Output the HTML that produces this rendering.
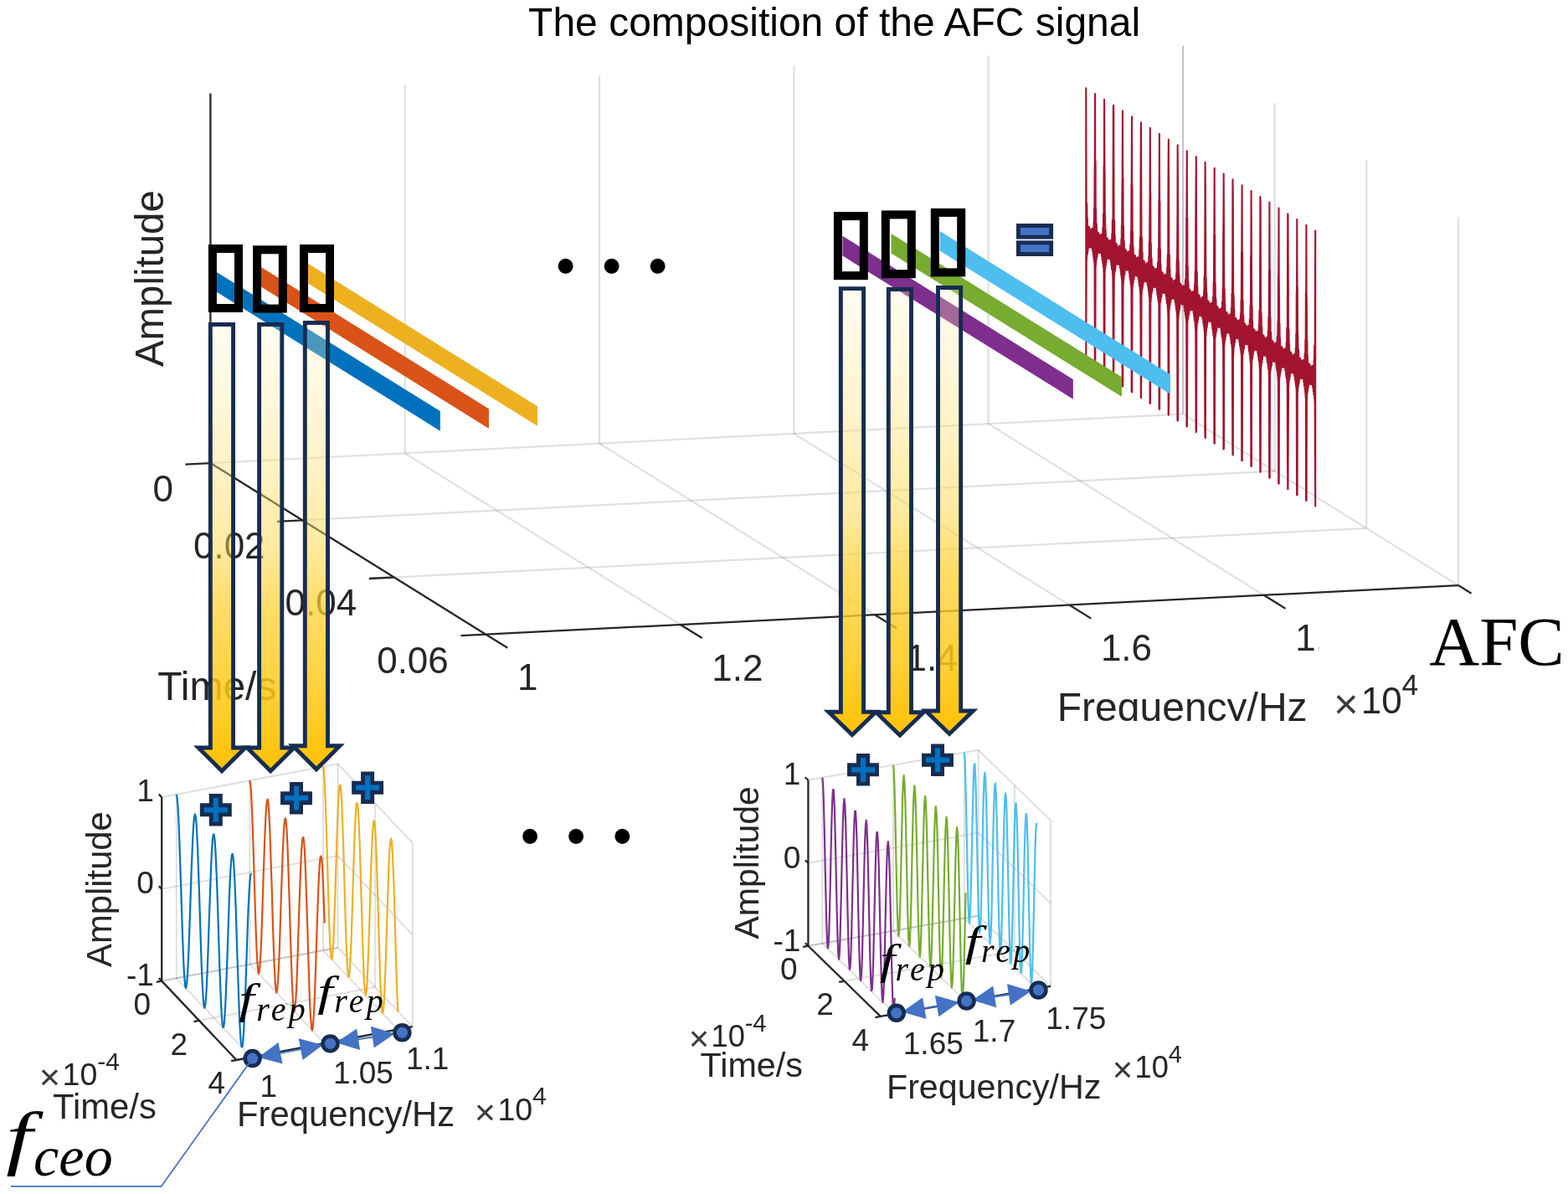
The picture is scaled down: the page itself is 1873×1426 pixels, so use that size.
<!DOCTYPE html>
<html lang="en"><head><meta charset="utf-8"><title>The composition of the AFC signal</title>
<style>html,body{margin:0;padding:0;background:#fff;}svg{display:block;}</style></head>
<body>
<svg width="1873" height="1426" viewBox="0 0 1873 1426">
<rect width="1873" height="1426" fill="#fff"/>
<g id="main-axes" fill="none">
<line x1="483.72" y1="541.37" x2="483.72" y2="101.67" stroke="#262627" stroke-opacity="0.15" stroke-width="2.1"/>
<line x1="716.04" y1="529.64" x2="716.04" y2="89.94" stroke="#262627" stroke-opacity="0.15" stroke-width="2.1"/>
<line x1="948.36" y1="517.91" x2="948.36" y2="78.21" stroke="#262627" stroke-opacity="0.15" stroke-width="2.1"/>
<line x1="1180.68" y1="506.18" x2="1180.68" y2="66.48" stroke="#262627" stroke-opacity="0.15" stroke-width="2.1"/>
<line x1="1413.00" y1="494.45" x2="1413.00" y2="54.75" stroke="#262627" stroke-opacity="0.15" stroke-width="2.1"/>
<line x1="1413.00" y1="494.45" x2="1413.00" y2="54.75" stroke="#262627" stroke-opacity="0.15" stroke-width="2.1"/>
<line x1="1522.67" y1="562.65" x2="1522.67" y2="122.95" stroke="#262627" stroke-opacity="0.15" stroke-width="2.1"/>
<line x1="1632.33" y1="630.85" x2="1632.33" y2="191.15" stroke="#262627" stroke-opacity="0.15" stroke-width="2.1"/>
<line x1="1742.00" y1="699.05" x2="1742.00" y2="259.35" stroke="#262627" stroke-opacity="0.15" stroke-width="2.1"/>
<line x1="251.40" y1="553.10" x2="1413.00" y2="494.45" stroke="#262627" stroke-opacity="0.15" stroke-width="2.1"/>
<line x1="361.07" y1="621.30" x2="1522.67" y2="562.65" stroke="#262627" stroke-opacity="0.15" stroke-width="2.1"/>
<line x1="470.73" y1="689.50" x2="1632.33" y2="630.85" stroke="#262627" stroke-opacity="0.15" stroke-width="2.1"/>
<line x1="483.72" y1="541.37" x2="812.72" y2="745.97" stroke="#262627" stroke-opacity="0.15" stroke-width="2.1"/>
<line x1="716.04" y1="529.64" x2="1045.04" y2="734.24" stroke="#262627" stroke-opacity="0.15" stroke-width="2.1"/>
<line x1="948.36" y1="517.91" x2="1277.36" y2="722.51" stroke="#262627" stroke-opacity="0.15" stroke-width="2.1"/>
<line x1="1180.68" y1="506.18" x2="1509.68" y2="710.78" stroke="#262627" stroke-opacity="0.15" stroke-width="2.1"/>
<line x1="1413.00" y1="494.45" x2="1742.00" y2="699.05" stroke="#262627" stroke-opacity="0.15" stroke-width="2.1"/>
<line x1="251.40" y1="553.10" x2="251.40" y2="111.40" stroke="#262626" stroke-width="2.3"/>
<line x1="251.40" y1="553.10" x2="580.40" y2="757.70" stroke="#262626" stroke-width="2.3"/>
<line x1="580.40" y1="757.70" x2="1742.00" y2="699.05" stroke="#262626" stroke-width="2.3"/>
<line x1="251.40" y1="553.10" x2="221.44" y2="554.61" stroke="#262626" stroke-width="2.3"/>
<line x1="361.07" y1="621.30" x2="331.10" y2="622.81" stroke="#262626" stroke-width="2.3"/>
<line x1="470.73" y1="689.50" x2="440.77" y2="691.01" stroke="#262626" stroke-width="2.3"/>
<line x1="580.40" y1="757.70" x2="550.44" y2="759.21" stroke="#262626" stroke-width="2.3"/>
<line x1="580.40" y1="757.70" x2="606.30" y2="773.81" stroke="#262626" stroke-width="2.3"/>
<line x1="812.72" y1="745.97" x2="838.62" y2="762.08" stroke="#262626" stroke-width="2.3"/>
<line x1="1045.04" y1="734.24" x2="1070.94" y2="750.35" stroke="#262626" stroke-width="2.3"/>
<line x1="1277.36" y1="722.51" x2="1303.26" y2="738.62" stroke="#262626" stroke-width="2.3"/>
<line x1="1509.68" y1="710.78" x2="1535.58" y2="726.89" stroke="#262626" stroke-width="2.3"/>
<line x1="1742.00" y1="699.05" x2="1757.54" y2="708.71" stroke="#262626" stroke-width="2.3"/>
</g>
<g id="main-labels">
<text x="631.10" y="43.30" font-family="'Liberation Sans', Arial, Helvetica, sans-serif" font-size="48" fill="#000" text-anchor="start" >The composition of the AFC signal</text>
<text x="207.00" y="598.80" font-family="'Liberation Sans', Arial, Helvetica, sans-serif" font-size="44" fill="#262626" text-anchor="end" >0</text>
<text x="316.60" y="667.10" font-family="'Liberation Sans', Arial, Helvetica, sans-serif" font-size="44" fill="#262626" text-anchor="end" >0.02</text>
<text x="426.20" y="735.40" font-family="'Liberation Sans', Arial, Helvetica, sans-serif" font-size="44" fill="#262626" text-anchor="end" >0.04</text>
<text x="535.80" y="803.70" font-family="'Liberation Sans', Arial, Helvetica, sans-serif" font-size="44" fill="#262626" text-anchor="end" >0.06</text>
<text x="188.20" y="835.70" font-family="'Liberation Sans', Arial, Helvetica, sans-serif" font-size="48" fill="#262626" text-anchor="start" >Time/s</text>
<text x="618.00" y="824.40" font-family="'Liberation Sans', Arial, Helvetica, sans-serif" font-size="44" fill="#262626" text-anchor="start" >1</text>
<text x="850.30" y="812.60" font-family="'Liberation Sans', Arial, Helvetica, sans-serif" font-size="44" fill="#262626" text-anchor="start" >1.2</text>
<text x="1082.60" y="800.80" font-family="'Liberation Sans', Arial, Helvetica, sans-serif" font-size="44" fill="#262626" text-anchor="start" >1.4</text>
<text x="1314.90" y="789.00" font-family="'Liberation Sans', Arial, Helvetica, sans-serif" font-size="44" fill="#262626" text-anchor="start" >1.6</text>
<clipPath id="c18"><rect x="1500" y="700" width="76" height="100"/></clipPath>
<text x="1547.20" y="777.20" font-family="'Liberation Sans', Arial, Helvetica, sans-serif" font-size="44" fill="#262626" text-anchor="start" clip-path="url(#c18)">1.8</text>
<clipPath id="cfq"><rect x="1200" y="800" width="400" height="61.0"/></clipPath>
<text x="1262.80" y="861.40" font-family="'Liberation Sans', Arial, Helvetica, sans-serif" font-size="48" fill="#262626" text-anchor="start" clip-path="url(#cfq)">Frequency/Hz</text>
<text font-family="'Liberation Sans', Arial, Helvetica, sans-serif" fill="#262626"><tspan x="1593.12" y="857.61" font-size="50.8" fill="#3a3a3a">×</tspan><tspan x="1625.70" y="851.60" font-size="44.0">10</tspan><tspan x="1674.51" y="829.78" font-size="35.2">4</tspan></text>
<text transform="translate(195.30,438.00) rotate(-90)" font-family="'Liberation Sans', Arial, Helvetica, sans-serif" font-size="47.4" fill="#262626" text-anchor="start">Amplitude</text>
<text x="1707.20" y="794.40" font-family="'Liberation Serif', 'Times New Roman', serif" font-size="83" fill="#000" text-anchor="start" >AFC</text>
</g>
<path id="afc" d="M1297.3,105.3 L1297.5,185.6 L1297.8,281.3 L1298.0,243.0 L1298.3,243.5 L1298.5,279.1 L1298.8,260.6 L1299.0,274.6 L1299.3,270.8 L1299.5,275.2 L1299.8,271.8 L1300.0,278.0 L1300.3,270.6 L1300.5,279.5 L1300.8,271.6 L1301.0,271.1 L1301.3,283.5 L1301.5,272.8 L1301.8,281.7 L1302.0,275.5 L1302.3,276.3 L1302.5,278.9 L1302.8,279.1 L1303.0,276.1 L1303.3,279.7 L1303.5,277.2 L1303.8,274.2 L1304.0,285.2 L1304.3,273.1 L1304.5,284.8 L1304.8,273.4 L1305.0,273.6 L1305.3,281.2 L1305.6,275.4 L1305.8,274.8 L1306.1,276.8 L1306.3,280.3 L1306.6,265.4 L1306.8,284.3 L1307.1,248.6 L1307.3,272.2 L1307.6,207.8 L1307.8,192.0 L1308.1,112.0 L1308.3,231.6 L1308.6,192.5 L1308.8,288.2 L1309.1,249.9 L1309.3,282.1 L1309.6,268.0 L1309.8,267.4 L1310.1,281.5 L1310.3,277.6 L1310.6,278.5 L1310.8,279.2 L1311.1,285.0 L1311.3,277.5 L1311.6,289.2 L1311.8,277.8 L1312.1,283.3 L1312.3,282.1 L1312.6,279.6 L1312.8,288.6 L1313.1,282.4 L1313.3,285.7 L1313.6,285.8 L1313.8,286.0 L1314.1,283.0 L1314.3,289.5 L1314.6,280.9 L1314.8,282.6 L1315.1,286.8 L1315.3,280.0 L1315.6,291.7 L1315.8,280.3 L1316.1,288.6 L1316.3,283.4 L1316.6,282.3 L1316.8,281.7 L1317.1,285.9 L1317.4,272.1 L1317.6,272.4 L1317.9,291.1 L1318.1,255.5 L1318.4,294.1 L1318.6,198.8 L1318.9,224.9 L1319.1,118.9 L1319.4,199.2 L1319.6,208.1 L1319.9,285.7 L1320.1,256.7 L1320.4,292.7 L1320.6,274.1 L1320.9,285.9 L1321.1,287.3 L1321.4,284.5 L1321.6,285.4 L1321.9,291.5 L1322.1,284.3 L1322.4,284.3 L1322.6,296.0 L1322.9,284.7 L1323.1,297.1 L1323.4,286.3 L1323.6,288.5 L1323.9,293.5 L1324.1,289.2 L1324.4,292.5 L1324.6,292.7 L1324.9,291.1 L1325.1,289.9 L1325.4,296.4 L1325.6,287.8 L1325.9,298.8 L1326.1,286.7 L1326.4,287.0 L1326.6,297.2 L1326.9,287.1 L1327.1,294.8 L1327.4,289.0 L1327.6,294.0 L1327.9,288.6 L1328.1,292.8 L1328.4,279.0 L1328.6,295.4 L1328.9,263.9 L1329.2,262.4 L1329.4,301.0 L1329.7,205.6 L1329.9,127.8 L1330.2,125.8 L1330.4,206.1 L1330.7,295.8 L1330.9,263.4 L1331.2,263.6 L1331.4,299.6 L1331.7,281.0 L1331.9,295.1 L1332.2,291.2 L1332.4,294.0 L1332.7,292.3 L1332.9,298.4 L1333.2,291.0 L1333.4,298.4 L1333.7,292.9 L1333.9,291.6 L1334.2,304.0 L1334.4,293.2 L1334.7,302.2 L1334.9,295.9 L1335.2,296.3 L1335.4,299.4 L1335.7,299.5 L1335.9,296.6 L1336.2,299.2 L1336.4,299.1 L1336.7,294.6 L1336.9,305.7 L1337.2,293.6 L1337.4,304.8 L1337.7,294.1 L1337.9,294.0 L1338.2,301.7 L1338.4,295.8 L1338.7,295.3 L1338.9,296.4 L1339.2,300.4 L1339.4,285.9 L1339.7,304.7 L1339.9,269.1 L1340.2,287.2 L1340.4,237.1 L1340.7,212.5 L1341.0,132.4 L1341.2,231.2 L1341.5,212.9 L1341.7,308.6 L1342.0,270.3 L1342.2,297.0 L1342.5,289.7 L1342.7,287.9 L1343.0,302.0 L1343.2,298.1 L1343.5,299.0 L1343.7,299.2 L1344.0,305.3 L1344.2,297.9 L1344.5,309.6 L1344.7,298.3 L1345.0,302.2 L1345.2,303.7 L1345.5,300.1 L1345.7,309.0 L1346.0,302.8 L1346.2,306.3 L1346.5,306.3 L1346.7,306.4 L1347.0,303.4 L1347.2,310.0 L1347.5,301.3 L1347.7,302.3 L1348.0,309.0 L1348.2,300.4 L1348.5,312.1 L1348.7,300.7 L1349.0,308.4 L1349.2,304.8 L1349.5,302.7 L1349.7,302.1 L1350.0,306.3 L1350.2,292.6 L1350.5,292.7 L1350.7,311.6 L1351.0,275.9 L1351.2,314.6 L1351.5,219.2 L1351.7,234.7 L1352.0,139.3 L1352.2,219.6 L1352.5,223.3 L1352.8,311.9 L1353.0,277.2 L1353.3,313.2 L1353.5,294.6 L1353.8,303.2 L1354.0,308.8 L1354.3,305.0 L1354.5,305.8 L1354.8,312.0 L1355.0,305.1 L1355.3,304.8 L1355.5,316.5 L1355.8,305.1 L1356.0,317.5 L1356.3,306.8 L1356.5,308.1 L1356.8,315.0 L1357.0,309.7 L1357.3,313.0 L1357.5,313.1 L1357.8,312.5 L1358.0,310.3 L1358.3,316.8 L1358.5,308.2 L1358.8,319.2 L1359.0,307.2 L1359.3,307.3 L1359.5,319.0 L1359.8,307.6 L1360.0,315.3 L1360.3,309.4 L1360.5,312.7 L1360.8,309.0 L1361.0,313.2 L1361.3,299.4 L1361.5,313.1 L1361.8,286.8 L1362.0,282.8 L1362.3,321.4 L1362.5,226.0 L1362.8,155.0 L1363.0,146.2 L1363.3,226.5 L1363.5,305.9 L1363.8,284.6 L1364.0,284.1 L1364.3,320.0 L1364.6,301.5 L1364.8,315.6 L1365.1,311.7 L1365.3,313.2 L1365.6,312.7 L1365.8,318.9 L1366.1,311.5 L1366.3,317.3 L1366.6,314.5 L1366.8,312.0 L1367.1,324.4 L1367.3,313.7 L1367.6,322.6 L1367.8,316.4 L1368.1,316.6 L1368.3,319.8 L1368.6,320.0 L1368.8,317.0 L1369.1,318.8 L1369.3,321.2 L1369.6,315.1 L1369.8,326.1 L1370.1,314.0 L1370.3,323.4 L1370.6,315.2 L1370.8,314.5 L1371.1,322.1 L1371.3,316.3 L1371.6,315.7 L1371.8,316.2 L1372.1,320.3 L1372.3,306.3 L1372.6,325.2 L1372.8,289.5 L1373.1,302.7 L1373.3,267.6 L1373.6,232.9 L1373.8,152.9 L1374.1,227.8 L1374.3,233.4 L1374.6,329.1 L1374.8,290.8 L1375.1,312.0 L1375.3,311.9 L1375.6,308.3 L1375.8,322.4 L1376.1,318.5 L1376.4,319.4 L1376.6,319.6 L1376.9,325.7 L1377.1,318.4 L1377.4,330.1 L1377.6,318.7 L1377.9,321.4 L1378.1,325.5 L1378.4,320.5 L1378.6,329.5 L1378.9,323.3 L1379.1,327.2 L1379.4,326.7 L1379.6,326.9 L1379.9,323.9 L1380.1,330.4 L1380.4,321.8 L1380.6,322.2 L1380.9,331.2 L1381.1,320.9 L1381.4,332.6 L1381.6,321.2 L1381.9,326.9 L1382.1,326.3 L1382.4,323.2 L1382.6,322.6 L1382.9,326.8 L1383.1,313.6 L1383.4,313.2 L1383.6,332.1 L1383.9,296.4 L1384.1,335.0 L1384.4,239.7 L1384.6,247.3 L1384.9,159.8 L1385.1,240.1 L1385.4,240.8 L1385.6,336.0 L1385.9,297.6 L1386.1,333.6 L1386.4,315.1 L1386.6,320.9 L1386.9,329.3 L1387.1,325.4 L1387.4,326.3 L1387.7,332.4 L1387.9,326.4 L1388.2,325.2 L1388.4,336.9 L1388.7,325.6 L1388.9,338.0 L1389.2,327.3 L1389.4,327.8 L1389.7,336.4 L1389.9,330.1 L1390.2,333.4 L1390.4,333.6 L1390.7,334.2 L1390.9,330.8 L1391.2,337.3 L1391.4,328.7 L1391.7,338.3 L1391.9,327.8 L1392.2,327.8 L1392.4,339.4 L1392.7,328.0 L1392.9,335.7 L1393.2,329.9 L1393.4,331.9 L1393.7,329.5 L1393.9,333.7 L1394.2,319.9 L1394.4,330.9 L1394.7,310.5 L1394.9,303.3 L1395.2,341.9 L1395.4,246.5 L1395.7,186.4 L1395.9,166.6 L1396.2,247.0 L1396.4,315.4 L1396.7,306.8 L1396.9,304.5 L1397.2,340.5 L1397.4,321.9 L1397.7,336.0 L1397.9,332.1 L1398.2,332.8 L1398.4,333.2 L1398.7,339.3 L1398.9,331.9 L1399.2,336.3 L1399.5,336.3 L1399.7,332.5 L1400.0,344.9 L1400.2,334.1 L1400.5,343.1 L1400.7,336.9 L1401.0,337.0 L1401.2,340.3 L1401.5,340.4 L1401.7,337.5 L1402.0,338.5 L1402.2,343.3 L1402.5,335.5 L1402.7,346.6 L1403.0,334.5 L1403.2,342.0 L1403.5,336.5 L1403.7,334.9 L1404.0,342.6 L1404.2,336.8 L1404.5,336.2 L1404.7,336.4 L1405.0,340.5 L1405.2,326.8 L1405.5,345.6 L1405.7,310.0 L1406.0,318.8 L1406.2,298.9 L1406.5,253.4 L1406.7,173.3 L1407.0,226.8 L1407.2,253.8 L1407.5,349.5 L1407.7,311.2 L1408.0,327.4 L1408.2,334.4 L1408.5,328.8 L1408.7,342.9 L1409.0,339.0 L1409.2,340.1 L1409.5,340.0 L1409.7,346.2 L1410.0,338.8 L1410.2,350.5 L1410.5,339.2 L1410.7,340.8 L1411.0,347.4 L1411.3,341.0 L1411.5,349.9 L1411.8,343.7 L1412.0,348.3 L1412.3,347.2 L1412.5,347.3 L1412.8,344.3 L1413.0,350.9 L1413.3,342.2 L1413.5,342.4 L1413.8,353.3 L1414.0,341.4 L1414.3,353.0 L1414.5,341.6 L1414.8,345.7 L1415.0,348.0 L1415.3,343.6 L1415.5,343.0 L1415.8,347.2 L1416.0,335.2 L1416.3,333.6 L1416.5,352.5 L1416.8,316.8 L1417.0,355.5 L1417.3,260.1 L1417.5,262.6 L1417.8,180.2 L1418.0,260.7 L1418.3,260.7 L1418.5,356.4 L1418.8,318.1 L1419.0,354.1 L1419.3,335.5 L1419.5,339.1 L1419.8,349.7 L1420.0,345.9 L1420.3,346.7 L1420.5,352.7 L1420.8,348.0 L1421.0,345.7 L1421.3,357.4 L1421.5,346.0 L1421.8,358.5 L1422.0,347.7 L1422.3,347.9 L1422.5,356.8 L1422.8,350.6 L1423.1,353.9 L1423.3,354.0 L1423.6,356.0 L1423.8,351.2 L1424.1,357.8 L1424.3,349.1 L1424.6,357.3 L1424.8,348.7 L1425.1,348.2 L1425.3,359.9 L1425.6,348.5 L1425.8,356.2 L1426.1,350.3 L1426.3,351.3 L1426.6,349.9 L1426.8,354.1 L1427.1,340.4 L1427.3,348.7 L1427.6,334.9 L1427.8,323.7 L1428.1,362.3 L1428.3,267.0 L1428.6,221.8 L1428.8,187.1 L1429.1,267.5 L1429.3,324.5 L1429.6,329.9 L1429.8,325.0 L1430.1,360.9 L1430.3,342.4 L1430.6,356.5 L1430.8,352.6 L1431.1,352.8 L1431.3,353.6 L1431.6,359.8 L1431.8,352.4 L1432.1,355.4 L1432.3,358.4 L1432.6,352.9 L1432.8,365.3 L1433.1,354.6 L1433.3,363.6 L1433.6,357.7 L1433.8,357.5 L1434.1,360.7 L1434.3,360.9 L1434.6,357.9 L1434.9,358.4 L1435.1,364.6 L1435.4,356.0 L1435.6,367.0 L1435.9,354.9 L1436.1,360.7 L1436.4,358.1 L1436.6,355.4 L1436.9,363.0 L1437.1,357.2 L1437.4,356.7 L1437.6,356.8 L1437.9,361.0 L1438.1,347.2 L1438.4,366.1 L1438.6,330.4 L1438.9,335.7 L1439.1,330.6 L1439.4,273.9 L1439.6,193.8 L1439.9,228.8 L1440.1,274.3 L1440.4,370.0 L1440.6,331.7 L1440.9,343.2 L1441.1,357.3 L1441.4,349.3 L1441.6,363.3 L1441.9,359.4 L1442.1,361.2 L1442.4,360.5 L1442.6,366.6 L1442.9,359.3 L1443.1,371.0 L1443.4,359.6 L1443.6,360.4 L1443.9,369.3 L1444.1,361.5 L1444.4,370.4 L1444.6,364.2 L1444.9,369.3 L1445.1,367.6 L1445.4,367.8 L1445.6,364.8 L1445.9,371.3 L1446.1,362.8 L1446.4,362.9 L1446.7,373.9 L1446.9,361.8 L1447.2,373.5 L1447.4,362.1 L1447.7,364.7 L1447.9,369.7 L1448.2,364.1 L1448.4,363.5 L1448.7,367.7 L1448.9,357.4 L1449.2,354.1 L1449.4,373.0 L1449.7,337.3 L1449.9,375.9 L1450.2,280.5 L1450.4,280.8 L1450.7,200.7 L1450.9,283.4 L1451.2,281.2 L1451.4,376.9 L1451.7,338.5 L1451.9,374.5 L1452.2,356.0 L1452.4,357.8 L1452.7,370.2 L1452.9,366.3 L1453.2,367.2 L1453.4,371.9 L1453.7,369.9 L1453.9,366.1 L1454.2,377.8 L1454.4,366.5 L1454.7,378.8 L1454.9,368.2 L1455.2,368.3 L1455.4,377.3 L1455.7,371.0 L1455.9,374.3 L1456.2,374.5 L1456.4,375.9 L1456.7,371.7 L1456.9,378.2 L1457.2,369.6 L1457.4,376.3 L1457.7,370.0 L1457.9,368.7 L1458.2,380.3 L1458.5,368.9 L1458.7,376.6 L1459.0,370.8 L1459.2,371.2 L1459.5,370.4 L1459.7,374.6 L1460.0,360.8 L1460.2,366.7 L1460.5,360.0 L1460.7,344.2 L1461.0,382.8 L1461.2,287.4 L1461.5,260.7 L1461.7,207.5 L1462.0,287.9 L1462.2,333.7 L1462.5,353.9 L1462.7,345.4 L1463.0,381.4 L1463.2,362.8 L1463.5,376.9 L1463.7,373.0 L1464.0,373.2 L1464.2,374.1 L1464.5,380.2 L1464.7,372.9 L1465.0,374.8 L1465.2,380.6 L1465.5,373.4 L1465.7,385.8 L1466.0,375.0 L1466.2,383.1 L1466.5,378.6 L1466.7,377.9 L1467.0,381.2 L1467.2,381.4 L1467.5,378.4 L1467.7,378.6 L1468.0,385.1 L1468.2,376.4 L1468.5,387.5 L1468.7,375.4 L1469.0,379.6 L1469.2,379.8 L1469.5,375.8 L1469.7,383.5 L1470.0,377.7 L1470.3,377.6 L1470.5,377.2 L1470.8,381.4 L1471.0,367.7 L1471.3,386.5 L1471.5,350.9 L1471.8,353.4 L1472.0,362.4 L1472.3,294.3 L1472.5,214.3 L1472.8,234.3 L1473.0,294.7 L1473.3,390.4 L1473.5,352.1 L1473.8,359.6 L1474.0,380.3 L1474.3,369.7 L1474.5,383.8 L1474.8,379.9 L1475.0,382.6 L1475.3,380.9 L1475.5,387.1 L1475.8,379.7 L1476.0,391.4 L1476.3,380.1 L1476.5,380.4 L1476.8,391.2 L1477.0,381.9 L1477.3,390.9 L1477.5,384.6 L1477.8,388.3 L1478.0,388.1 L1478.3,388.2 L1478.5,385.2 L1478.8,391.8 L1479.0,383.6 L1479.3,383.3 L1479.5,394.4 L1479.8,382.3 L1480.0,393.9 L1480.3,382.5 L1480.5,384.0 L1480.8,390.4 L1481.0,384.5 L1481.3,384.0 L1481.5,388.2 L1481.8,380.1 L1482.1,374.6 L1482.3,393.4 L1482.6,357.8 L1482.8,396.4 L1483.1,301.6 L1483.3,301.2 L1483.6,221.2 L1483.8,308.9 L1484.1,301.6 L1484.3,397.3 L1484.6,359.0 L1484.8,395.0 L1485.1,376.4 L1485.3,377.2 L1485.6,390.7 L1485.8,386.8 L1486.1,387.7 L1486.3,391.1 L1486.6,392.0 L1486.8,386.6 L1487.1,398.3 L1487.3,387.0 L1487.6,397.5 L1487.8,388.9 L1488.1,388.8 L1488.3,397.7 L1488.6,391.5 L1488.8,394.8 L1489.1,394.9 L1489.3,395.7 L1489.6,392.1 L1489.8,398.7 L1490.1,390.0 L1490.3,395.3 L1490.6,391.5 L1490.8,389.1 L1491.1,400.8 L1491.3,389.4 L1491.6,397.1 L1491.8,391.2 L1492.1,391.4 L1492.3,390.8 L1492.6,395.0 L1492.8,381.3 L1493.1,385.1 L1493.3,385.6 L1493.6,364.6 L1493.9,403.2 L1494.1,307.9 L1494.4,302.6 L1494.6,228.0 L1494.9,308.4 L1495.1,343.3 L1495.4,378.7 L1495.6,365.9 L1495.9,401.8 L1496.1,383.3 L1496.4,397.5 L1496.6,393.8 L1496.9,393.6 L1497.1,394.5 L1497.4,400.7 L1497.6,393.3 L1497.9,394.3 L1498.1,402.9 L1498.4,393.8 L1498.6,406.2 L1498.9,395.5 L1499.1,401.9 L1499.4,399.8 L1499.6,398.4 L1499.9,401.6 L1500.1,401.8 L1500.4,398.8 L1500.6,399.0 L1500.9,405.5 L1501.1,396.9 L1501.4,408.0 L1501.6,395.8 L1501.9,398.6 L1502.1,401.8 L1502.4,396.3 L1502.6,404.0 L1502.9,398.1 L1503.1,399.0 L1503.4,397.7 L1503.6,401.9 L1503.9,388.1 L1504.1,407.0 L1504.4,371.3 L1504.6,372.2 L1504.9,393.9 L1505.2,314.7 L1505.4,234.7 L1505.7,243.8 L1505.9,315.2 L1506.2,410.9 L1506.4,372.6 L1506.7,376.8 L1506.9,403.5 L1507.2,390.2 L1507.4,404.2 L1507.7,400.4 L1507.9,404.4 L1508.2,401.4 L1508.4,407.5 L1508.7,400.2 L1508.9,411.9 L1509.2,400.5 L1509.4,400.7 L1509.7,413.1 L1509.9,402.4 L1510.2,411.3 L1510.4,405.1 L1510.7,407.6 L1510.9,408.5 L1511.2,408.7 L1511.4,405.7 L1511.7,411.3 L1511.9,404.7 L1512.2,403.8 L1512.4,414.8 L1512.7,402.7 L1512.9,414.4 L1513.2,403.0 L1513.4,403.7 L1513.7,410.8 L1513.9,405.0 L1514.2,404.4 L1514.4,408.6 L1514.7,403.3 L1514.9,395.0 L1515.2,413.9 L1515.4,378.2 L1515.7,413.2 L1515.9,325.0 L1516.2,321.6 L1516.4,241.6 L1516.7,337.3 L1517.0,322.1 L1517.2,417.8 L1517.5,379.4 L1517.7,415.4 L1518.0,396.9 L1518.2,397.1 L1518.5,411.1 L1518.7,407.2 L1519.0,408.1 L1519.2,410.5 L1519.5,414.4 L1519.7,407.0 L1520.0,418.8 L1520.2,407.4 L1520.5,416.2 L1520.7,409.9 L1521.0,409.2 L1521.2,418.2 L1521.5,412.0 L1521.7,415.2 L1522.0,415.4 L1522.2,415.8 L1522.5,412.6 L1522.7,419.1 L1523.0,410.5 L1523.2,414.4 L1523.5,413.2 L1523.7,409.6 L1524.0,421.3 L1524.2,409.9 L1524.5,417.5 L1524.7,411.8 L1525.0,411.9 L1525.2,411.3 L1525.5,415.5 L1525.7,401.7 L1526.0,403.8 L1526.2,411.4 L1526.5,385.1 L1526.7,423.7 L1527.0,328.3 L1527.2,346.9 L1527.5,248.5 L1527.7,328.8 L1528.0,353.7 L1528.2,404.1 L1528.5,386.3 L1528.8,422.3 L1529.0,403.7 L1529.3,418.6 L1529.5,414.9 L1529.8,414.1 L1530.0,415.0 L1530.3,421.1 L1530.5,413.8 L1530.8,414.2 L1531.0,425.2 L1531.3,414.3 L1531.5,426.7 L1531.8,415.9 L1532.0,420.7 L1532.3,421.1 L1532.5,418.8 L1532.8,422.1 L1533.0,422.3 L1533.3,419.5 L1533.5,419.4 L1533.8,426.0 L1534.0,417.3 L1534.3,428.4 L1534.5,416.3 L1534.8,418.0 L1535.0,423.7 L1535.3,416.7 L1535.5,424.4 L1535.8,418.6 L1536.0,420.7 L1536.3,418.1 L1536.5,422.4 L1536.8,408.6 L1537.0,427.5 L1537.3,391.8 L1537.5,391.9 L1537.8,424.6 L1538.0,335.2 L1538.3,255.2 L1538.5,257.6 L1538.8,335.7 L1539.0,431.3 L1539.3,393.0 L1539.5,394.9 L1539.8,426.7 L1540.0,410.6 L1540.3,424.7 L1540.6,420.8 L1540.8,426.5 L1541.1,421.8 L1541.3,428.0 L1541.6,420.6 L1541.8,431.0 L1542.1,421.2 L1542.3,421.1 L1542.6,433.6 L1542.8,422.8 L1543.1,431.8 L1543.3,425.5 L1543.6,427.1 L1543.8,429.0 L1544.1,429.1 L1544.3,426.2 L1544.6,430.7 L1544.8,426.1 L1545.1,424.2 L1545.3,435.3 L1545.6,423.2 L1545.8,434.8 L1546.1,423.4 L1546.3,423.7 L1546.6,431.3 L1546.8,425.4 L1547.1,424.9 L1547.3,428.0 L1547.6,426.9 L1547.8,415.5 L1548.1,434.3 L1548.3,398.7 L1548.6,427.9 L1548.8,350.7 L1549.1,342.1 L1549.3,262.1 L1549.6,368.4 L1549.8,342.6 L1550.1,438.2 L1550.3,399.9 L1550.6,435.9 L1550.8,417.4 L1551.1,417.5 L1551.3,431.6 L1551.6,427.7 L1551.8,428.6 L1552.1,430.0 L1552.4,435.6 L1552.6,427.5 L1552.9,439.2 L1553.1,427.9 L1553.4,435.0 L1553.6,431.1 L1553.9,429.7 L1554.1,438.6 L1554.4,432.4 L1554.6,435.7 L1554.9,435.8 L1555.1,436.0 L1555.4,433.0 L1555.6,439.6 L1555.9,430.9 L1556.1,433.7 L1556.4,435.2 L1556.6,430.0 L1556.9,441.7 L1557.1,430.3 L1557.4,438.2 L1557.6,432.7 L1557.9,432.3 L1558.1,431.7 L1558.4,435.9 L1558.6,422.2 L1558.9,423.1 L1559.1,437.4 L1559.4,405.5 L1559.6,444.1 L1559.9,348.8 L1560.1,388.2 L1560.4,268.9 L1560.6,349.2 L1560.9,365.4 L1561.1,430.0 L1561.4,406.8 L1561.6,442.8 L1561.9,424.2 L1562.1,439.4 L1562.4,436.2 L1562.6,434.5 L1562.9,435.4 L1563.1,441.6 L1563.4,434.2 L1563.6,434.4 L1563.9,446.1 L1564.2,434.7 L1564.4,447.1 L1564.7,436.4 L1564.9,439.8 L1565.2,442.5 L1565.4,439.3 L1565.7,442.6 L1565.9,442.7 L1566.2,440.4 L1566.4,439.9 L1566.7,446.4 L1566.9,437.8 L1567.2,448.9 L1567.4,436.8 L1567.7,437.6 L1567.9,445.7 L1568.2,437.2 L1568.4,444.9 L1568.7,439.0 L1568.9,442.7 L1569.2,438.6 L1569.4,442.8 L1569.7,429.0 L1569.9,447.9 L1570.2,412.6 L1570.4,412.4 L1570.7,451.0 L1570.9,355.6 L1571.2,275.6 L1571.2,604.6 L1570.9,547.2 L1570.7,482.2 L1570.4,476.7 L1570.2,475.5 L1569.9,460.1 L1569.7,469.2 L1569.4,471.4 L1569.2,450.7 L1568.9,467.4 L1568.7,450.6 L1568.4,463.1 L1568.2,462.5 L1567.9,453.2 L1567.7,458.3 L1567.4,456.2 L1567.2,453.8 L1566.9,454.2 L1566.7,458.2 L1566.4,449.9 L1566.2,459.2 L1565.9,449.8 L1565.7,458.7 L1565.4,458.7 L1565.2,449.2 L1564.9,457.1 L1564.7,452.3 L1564.4,454.4 L1564.2,453.2 L1563.9,456.0 L1563.6,450.6 L1563.4,460.0 L1563.1,453.3 L1562.9,460.4 L1562.6,463.5 L1562.4,446.5 L1562.1,466.9 L1561.9,452.3 L1561.6,470.2 L1561.4,470.0 L1561.1,470.9 L1560.9,476.1 L1560.6,598.0 L1560.4,587.4 L1560.1,597.7 L1559.9,475.4 L1559.6,473.5 L1559.4,468.8 L1559.1,468.6 L1558.9,450.4 L1558.6,464.7 L1558.4,457.8 L1558.1,454.9 L1557.9,460.6 L1557.6,443.7 L1557.4,456.2 L1557.1,446.5 L1556.9,451.5 L1556.6,451.5 L1556.4,449.4 L1556.1,447.0 L1555.9,451.5 L1555.6,450.6 L1555.4,444.6 L1555.1,452.3 L1554.9,441.3 L1554.6,452.0 L1554.4,445.6 L1554.1,448.9 L1553.9,450.3 L1553.6,445.4 L1553.4,447.5 L1553.1,449.3 L1552.9,449.1 L1552.6,443.7 L1552.4,453.1 L1552.1,440.3 L1551.8,456.8 L1551.6,452.7 L1551.3,451.0 L1551.1,460.0 L1550.8,445.4 L1550.6,463.3 L1550.3,461.3 L1550.1,465.1 L1549.8,469.2 L1549.6,591.2 L1549.3,569.4 L1549.1,590.9 L1548.8,468.6 L1548.6,463.1 L1548.3,461.2 L1548.1,461.7 L1547.8,443.5 L1547.6,457.8 L1547.3,437.1 L1547.1,453.9 L1546.8,451.9 L1546.6,441.3 L1546.3,449.3 L1546.1,439.6 L1545.8,444.7 L1545.6,440.8 L1545.3,442.5 L1545.1,440.1 L1544.8,444.6 L1544.6,436.4 L1544.3,445.6 L1544.1,445.5 L1543.8,434.7 L1543.6,445.1 L1543.3,435.6 L1543.1,443.6 L1542.8,440.6 L1542.6,438.5 L1542.3,440.6 L1542.1,442.4 L1541.8,437.0 L1541.6,445.2 L1541.3,446.2 L1541.1,433.4 L1540.8,450.0 L1540.6,432.9 L1540.3,453.3 L1540.0,452.1 L1539.8,438.7 L1539.5,456.4 L1539.3,457.3 L1539.0,462.5 L1538.8,508.5 L1538.5,584.3 L1538.3,584.1 L1538.0,543.7 L1537.8,461.7 L1537.5,456.2 L1537.3,455.0 L1537.0,442.5 L1536.8,446.8 L1536.5,451.0 L1536.3,430.3 L1536.0,447.0 L1535.8,430.2 L1535.5,442.6 L1535.3,442.4 L1535.0,432.8 L1534.8,437.9 L1534.5,435.8 L1534.3,433.9 L1534.0,432.3 L1533.8,437.8 L1533.5,429.5 L1533.3,438.7 L1533.0,430.9 L1532.8,437.8 L1532.5,438.3 L1532.3,428.7 L1532.0,436.7 L1531.8,431.8 L1531.5,433.9 L1531.3,433.3 L1531.0,435.5 L1530.8,430.1 L1530.5,439.5 L1530.3,434.5 L1530.0,438.1 L1529.8,443.1 L1529.5,426.1 L1529.3,446.4 L1529.0,431.8 L1528.8,449.5 L1528.5,449.5 L1528.2,450.4 L1528.0,455.6 L1527.7,577.6 L1527.5,574.1 L1527.2,577.2 L1527.0,455.0 L1526.7,454.5 L1526.5,449.2 L1526.2,448.1 L1526.0,429.9 L1525.7,444.3 L1525.5,439.6 L1525.2,432.2 L1525.0,440.1 L1524.7,423.3 L1524.5,435.8 L1524.2,425.9 L1524.0,430.6 L1523.7,431.0 L1523.5,428.9 L1523.2,426.5 L1523.0,431.1 L1522.7,430.6 L1522.5,422.6 L1522.2,431.9 L1522.0,420.9 L1521.7,431.6 L1521.5,426.7 L1521.2,427.6 L1521.0,429.8 L1520.7,424.9 L1520.5,427.0 L1520.2,428.7 L1520.0,428.7 L1519.7,423.2 L1519.5,432.6 L1519.2,419.9 L1519.0,436.4 L1518.7,433.9 L1518.5,428.0 L1518.2,439.6 L1518.0,424.9 L1517.7,442.8 L1517.5,438.2 L1517.2,443.5 L1517.0,448.8 L1516.7,570.7 L1516.4,534.2 L1516.2,570.4 L1515.9,448.1 L1515.7,442.6 L1515.4,439.3 L1515.2,441.3 L1514.9,423.1 L1514.7,437.4 L1514.4,416.7 L1514.2,433.4 L1513.9,432.5 L1513.7,419.2 L1513.4,428.9 L1513.2,419.2 L1512.9,424.3 L1512.7,419.2 L1512.4,422.0 L1512.2,419.6 L1511.9,424.2 L1511.7,416.0 L1511.4,425.0 L1511.2,425.0 L1510.9,414.0 L1510.7,424.7 L1510.4,415.1 L1510.2,423.1 L1509.9,421.2 L1509.7,418.1 L1509.4,420.2 L1509.2,421.9 L1508.9,416.8 L1508.7,423.7 L1508.4,425.8 L1508.2,413.0 L1507.9,429.5 L1507.7,412.5 L1507.4,432.9 L1507.2,432.5 L1506.9,418.1 L1506.7,436.0 L1506.4,436.8 L1506.2,442.0 L1505.9,468.0 L1505.7,563.8 L1505.4,563.7 L1505.2,537.8 L1504.9,441.3 L1504.6,435.7 L1504.4,434.5 L1504.1,424.9 L1503.9,423.9 L1503.6,430.5 L1503.4,409.8 L1503.1,426.5 L1502.9,409.7 L1502.6,422.1 L1502.4,422.0 L1502.1,412.3 L1501.9,417.4 L1501.6,415.3 L1501.4,414.1 L1501.1,411.8 L1500.9,417.3 L1500.6,409.0 L1500.4,418.3 L1500.1,411.9 L1499.9,416.6 L1499.6,417.8 L1499.4,408.2 L1499.1,416.2 L1498.9,411.4 L1498.6,413.5 L1498.4,413.2 L1498.1,415.1 L1497.9,409.7 L1497.6,419.1 L1497.4,415.5 L1497.1,415.6 L1496.9,422.6 L1496.6,405.6 L1496.4,426.0 L1496.1,411.3 L1495.9,428.3 L1495.6,429.1 L1495.4,430.0 L1495.1,435.2 L1494.9,557.1 L1494.6,556.8 L1494.4,556.8 L1494.1,434.5 L1493.9,434.4 L1493.6,428.9 L1493.3,427.7 L1493.1,409.5 L1492.8,423.8 L1492.6,420.9 L1492.3,409.3 L1492.1,419.7 L1491.8,402.8 L1491.6,415.3 L1491.3,405.7 L1491.1,409.6 L1490.8,410.6 L1490.6,408.5 L1490.3,406.0 L1490.1,410.6 L1489.8,410.4 L1489.6,402.2 L1489.3,411.4 L1489.1,400.4 L1488.8,411.1 L1488.6,407.6 L1488.3,406.1 L1488.1,409.4 L1487.8,404.5 L1487.6,406.6 L1487.3,407.8 L1487.1,408.2 L1486.8,402.8 L1486.6,412.2 L1486.3,399.4 L1486.1,415.9 L1485.8,414.7 L1485.6,404.8 L1485.3,419.1 L1485.1,404.5 L1484.8,422.4 L1484.6,414.1 L1484.3,423.1 L1484.1,428.3 L1483.8,550.3 L1483.6,495.5 L1483.3,549.9 L1483.1,427.7 L1482.8,422.2 L1482.6,416.6 L1482.3,420.8 L1482.1,402.6 L1481.8,416.9 L1481.5,396.2 L1481.3,413.0 L1481.0,412.6 L1480.8,397.0 L1480.5,408.4 L1480.3,398.7 L1480.0,403.8 L1479.8,400.2 L1479.5,401.6 L1479.3,399.2 L1479.0,403.7 L1478.8,396.7 L1478.5,404.2 L1478.3,404.5 L1478.0,393.6 L1477.8,404.2 L1477.5,394.7 L1477.3,402.6 L1477.0,401.6 L1476.8,397.6 L1476.5,399.7 L1476.3,401.5 L1476.0,397.4 L1475.8,401.8 L1475.5,405.3 L1475.3,392.5 L1475.0,409.0 L1474.8,392.0 L1474.5,412.4 L1474.3,412.2 L1474.0,397.6 L1473.8,415.5 L1473.5,416.4 L1473.3,421.6 L1473.0,426.9 L1472.8,543.4 L1472.5,543.2 L1472.3,529.0 L1472.0,420.8 L1471.8,415.3 L1471.5,414.1 L1471.3,407.1 L1471.0,400.5 L1470.8,410.1 L1470.5,389.4 L1470.3,406.1 L1470.0,391.5 L1469.7,401.3 L1469.5,401.6 L1469.2,391.9 L1469.0,397.0 L1468.7,394.9 L1468.5,394.2 L1468.2,391.9 L1468.0,396.9 L1467.7,388.6 L1467.5,397.8 L1467.2,392.9 L1467.0,395.2 L1466.7,397.4 L1466.5,387.8 L1466.2,395.8 L1466.0,390.9 L1465.7,393.0 L1465.5,392.8 L1465.2,394.6 L1465.0,389.2 L1464.7,398.6 L1464.5,396.3 L1464.2,392.8 L1464.0,402.2 L1463.7,385.1 L1463.5,405.5 L1463.2,390.3 L1463.0,406.3 L1462.7,408.6 L1462.5,409.5 L1462.2,414.7 L1462.0,535.7 L1461.7,536.5 L1461.5,536.4 L1461.2,413.1 L1461.0,413.9 L1460.7,408.4 L1460.5,407.2 L1460.2,389.0 L1460.0,403.4 L1459.7,401.9 L1459.5,386.3 L1459.2,399.2 L1459.0,382.4 L1458.7,394.8 L1458.5,387.4 L1458.2,388.3 L1457.9,390.1 L1457.7,388.0 L1457.4,385.6 L1457.2,390.1 L1456.9,390.0 L1456.7,381.7 L1456.4,391.0 L1456.2,380.0 L1455.9,390.7 L1455.7,388.3 L1455.4,384.5 L1455.2,388.9 L1454.9,384.0 L1454.7,386.1 L1454.4,386.6 L1454.2,387.8 L1453.9,382.3 L1453.7,391.7 L1453.4,378.9 L1453.2,395.5 L1452.9,395.0 L1452.7,381.8 L1452.4,398.7 L1452.2,384.0 L1451.9,401.9 L1451.7,390.6 L1451.4,402.7 L1451.2,407.8 L1450.9,529.8 L1450.7,453.9 L1450.4,529.5 L1450.2,407.2 L1449.9,401.7 L1449.7,393.1 L1449.4,400.4 L1449.2,382.2 L1448.9,396.5 L1448.7,376.7 L1448.4,392.5 L1448.2,392.3 L1447.9,375.5 L1447.7,388.0 L1447.4,378.3 L1447.2,383.4 L1446.9,380.9 L1446.7,381.1 L1446.4,378.7 L1446.1,383.3 L1445.9,377.4 L1445.6,383.0 L1445.4,384.1 L1445.1,373.1 L1444.9,383.8 L1444.6,374.2 L1444.4,382.2 L1444.1,381.7 L1443.9,377.2 L1443.6,379.3 L1443.4,381.0 L1443.1,378.0 L1442.9,379.6 L1442.6,384.9 L1442.4,372.1 L1442.1,388.6 L1441.9,372.8 L1441.6,391.6 L1441.4,391.8 L1441.1,377.2 L1440.9,395.1 L1440.6,395.9 L1440.4,401.1 L1440.1,397.6 L1439.9,522.9 L1439.6,522.8 L1439.4,516.9 L1439.1,400.3 L1438.9,394.8 L1438.6,393.6 L1438.4,389.1 L1438.1,376.8 L1437.9,389.6 L1437.6,368.9 L1437.4,385.6 L1437.1,373.5 L1436.9,380.2 L1436.6,381.1 L1436.4,371.4 L1436.1,376.5 L1435.9,374.4 L1435.6,374.1 L1435.4,371.8 L1435.1,376.4 L1434.9,368.1 L1434.6,377.4 L1434.3,373.7 L1434.1,373.6 L1433.8,376.9 L1433.6,367.3 L1433.3,375.3 L1433.1,370.4 L1432.8,372.4 L1432.6,372.4 L1432.3,374.2 L1432.1,368.8 L1431.8,378.1 L1431.6,376.9 L1431.3,369.9 L1431.1,381.7 L1430.8,364.7 L1430.6,385.1 L1430.3,372.0 L1430.1,383.9 L1429.8,388.2 L1429.6,389.1 L1429.3,394.2 L1429.1,510.5 L1428.8,516.1 L1428.6,515.9 L1428.3,390.2 L1428.1,393.5 L1427.8,388.0 L1427.6,386.8 L1427.3,368.6 L1427.1,382.9 L1426.8,382.4 L1426.6,363.3 L1426.3,378.8 L1426.1,361.9 L1425.8,374.4 L1425.6,368.8 L1425.3,366.9 L1425.1,369.6 L1424.8,367.6 L1424.6,365.1 L1424.3,369.4 L1424.1,369.5 L1423.8,361.3 L1423.6,370.5 L1423.3,359.5 L1423.1,370.2 L1422.8,368.8 L1422.5,362.9 L1422.3,368.5 L1422.0,363.6 L1421.8,365.7 L1421.5,365.2 L1421.3,367.3 L1421.0,361.9 L1420.8,371.3 L1420.5,358.5 L1420.3,375.0 L1420.0,374.8 L1419.8,358.8 L1419.5,378.2 L1419.3,363.6 L1419.0,381.5 L1418.8,373.9 L1418.5,382.2 L1418.3,387.4 L1418.0,509.4 L1417.8,433.5 L1417.5,509.0 L1417.3,386.8 L1417.0,381.3 L1416.8,368.9 L1416.5,379.9 L1416.3,361.7 L1416.0,376.0 L1415.8,358.8 L1415.5,371.7 L1415.3,371.9 L1415.0,355.1 L1414.8,367.5 L1414.5,357.8 L1414.3,362.9 L1414.0,361.5 L1413.8,360.7 L1413.5,358.3 L1413.3,362.8 L1413.0,358.1 L1412.8,361.6 L1412.5,363.6 L1412.3,352.7 L1412.0,363.3 L1411.8,353.8 L1411.5,361.7 L1411.3,361.5 L1411.0,356.7 L1410.7,358.8 L1410.5,360.6 L1410.2,358.5 L1410.0,357.2 L1409.7,364.4 L1409.5,351.6 L1409.2,368.1 L1409.0,354.9 L1408.7,370.2 L1408.5,371.3 L1408.2,356.7 L1408.0,374.6 L1407.7,375.5 L1407.5,380.7 L1407.2,379.5 L1407.0,502.5 L1406.7,502.3 L1406.5,501.2 L1406.2,379.9 L1406.0,374.4 L1405.7,373.2 L1405.5,370.6 L1405.2,354.3 L1405.0,369.2 L1404.7,348.5 L1404.5,365.2 L1404.2,355.5 L1404.0,358.7 L1403.7,360.7 L1403.5,351.0 L1403.2,356.1 L1403.0,354.0 L1402.7,353.8 L1402.5,351.4 L1402.2,356.0 L1402.0,347.7 L1401.7,356.9 L1401.5,354.4 L1401.2,351.8 L1401.0,356.5 L1400.7,346.9 L1400.5,354.9 L1400.2,349.6 L1400.0,351.6 L1399.7,351.9 L1399.5,353.7 L1399.2,348.3 L1398.9,357.7 L1398.7,357.1 L1398.4,347.0 L1398.2,361.3 L1397.9,344.2 L1397.7,364.6 L1397.4,354.8 L1397.2,361.1 L1396.9,367.7 L1396.7,368.6 L1396.4,373.8 L1396.2,481.7 L1395.9,495.6 L1395.7,495.5 L1395.4,378.7 L1395.2,373.0 L1394.9,367.5 L1394.7,366.3 L1394.4,348.1 L1394.2,362.4 L1393.9,362.3 L1393.7,341.6 L1393.4,358.3 L1393.2,341.5 L1392.9,353.9 L1392.7,350.1 L1392.4,345.4 L1392.2,349.2 L1391.9,347.1 L1391.7,344.7 L1391.4,348.4 L1391.2,349.1 L1390.9,340.8 L1390.7,350.1 L1390.4,339.1 L1390.2,349.7 L1389.9,349.1 L1389.7,341.3 L1389.4,348.0 L1389.2,343.1 L1388.9,345.2 L1388.7,343.5 L1388.4,346.8 L1388.2,341.4 L1387.9,350.8 L1387.7,339.1 L1387.4,354.4 L1387.1,354.4 L1386.9,337.4 L1386.6,357.8 L1386.4,343.1 L1386.1,361.0 L1385.9,356.5 L1385.6,361.7 L1385.4,366.9 L1385.1,488.9 L1384.9,434.2 L1384.6,488.6 L1384.4,366.3 L1384.1,360.8 L1383.9,351.5 L1383.6,359.5 L1383.4,341.2 L1383.1,355.6 L1382.9,341.0 L1382.6,350.5 L1382.4,351.4 L1382.1,334.6 L1381.9,347.1 L1381.6,337.4 L1381.4,342.5 L1381.1,341.8 L1380.9,340.2 L1380.6,337.8 L1380.4,342.4 L1380.1,338.8 L1379.9,340.0 L1379.6,343.2 L1379.4,332.2 L1379.1,342.9 L1378.9,333.3 L1378.6,341.3 L1378.4,341.1 L1378.1,336.3 L1377.9,338.4 L1377.6,340.1 L1377.4,338.8 L1377.1,334.7 L1376.9,344.0 L1376.6,331.2 L1376.4,347.7 L1376.1,337.0 L1375.8,348.3 L1375.6,350.9 L1375.3,336.3 L1375.1,354.1 L1374.8,355.0 L1374.6,360.2 L1374.3,360.0 L1374.1,482.0 L1373.8,481.7 L1373.6,481.7 L1373.3,359.4 L1373.1,353.9 L1372.8,352.7 L1372.6,351.6 L1372.3,334.3 L1372.1,348.7 L1371.8,328.0 L1371.6,344.7 L1371.3,337.4 L1371.1,337.0 L1370.8,340.2 L1370.6,330.5 L1370.3,335.6 L1370.1,333.4 L1369.8,333.4 L1369.6,330.9 L1369.3,335.5 L1369.1,327.2 L1368.8,336.5 L1368.6,334.9 L1368.3,329.9 L1368.1,336.0 L1367.8,326.4 L1367.6,334.4 L1367.3,328.6 L1367.1,330.6 L1366.8,331.5 L1366.6,333.3 L1366.3,327.9 L1366.1,337.2 L1365.8,337.0 L1365.6,324.3 L1365.3,340.8 L1365.1,323.8 L1364.8,344.2 L1364.6,337.2 L1364.3,337.9 L1364.0,347.3 L1363.8,348.2 L1363.5,353.3 L1363.3,449.6 L1363.0,475.2 L1362.8,474.9 L1362.5,378.9 L1362.3,352.6 L1362.0,347.1 L1361.8,345.9 L1361.5,327.7 L1361.3,341.8 L1361.0,341.8 L1360.8,321.1 L1360.5,337.8 L1360.3,321.0 L1360.0,333.5 L1359.8,331.1 L1359.5,323.9 L1359.3,328.7 L1359.0,326.6 L1358.8,324.2 L1358.5,327.1 L1358.3,328.6 L1358.0,320.3 L1357.8,329.6 L1357.5,318.6 L1357.3,329.3 L1357.0,329.0 L1356.8,319.7 L1356.5,327.5 L1356.3,322.7 L1356.0,324.8 L1355.8,321.7 L1355.5,326.4 L1355.3,321.0 L1355.0,330.4 L1354.8,320.3 L1354.5,333.3 L1354.3,333.9 L1354.0,316.9 L1353.8,337.3 L1353.5,322.7 L1353.3,340.6 L1353.0,338.3 L1352.8,341.3 L1352.5,346.5 L1352.2,468.4 L1352.0,431.9 L1351.7,468.1 L1351.5,345.9 L1351.2,340.3 L1351.0,334.6 L1350.7,339.0 L1350.5,320.8 L1350.2,335.1 L1350.0,323.2 L1349.7,328.8 L1349.5,331.0 L1349.2,314.1 L1349.0,326.6 L1348.7,316.9 L1348.5,322.0 L1348.2,321.7 L1348.0,319.8 L1347.7,317.4 L1347.5,321.9 L1347.2,319.3 L1347.0,318.2 L1346.7,322.7 L1346.5,311.7 L1346.2,322.4 L1346.0,312.8 L1345.7,320.5 L1345.5,320.7 L1345.2,315.8 L1345.0,317.9 L1344.7,319.7 L1344.5,319.0 L1344.2,313.9 L1344.0,323.5 L1343.7,310.7 L1343.5,327.2 L1343.2,319.0 L1343.0,326.0 L1342.7,330.4 L1342.5,315.8 L1342.2,333.7 L1342.0,334.5 L1341.7,339.4 L1341.5,339.6 L1341.2,461.5 L1341.0,458.1 L1340.7,461.3 L1340.4,339.0 L1340.2,333.5 L1339.9,332.3 L1339.7,332.0 L1339.4,313.9 L1339.2,328.2 L1338.9,307.5 L1338.7,324.3 L1338.4,319.0 L1338.2,315.1 L1337.9,319.7 L1337.7,310.1 L1337.4,315.2 L1337.2,312.6 L1336.9,312.9 L1336.7,310.5 L1336.4,315.1 L1336.2,306.8 L1335.9,316.0 L1335.7,315.2 L1335.4,308.0 L1335.2,315.5 L1334.9,306.0 L1334.7,314.0 L1334.4,308.2 L1334.2,309.4 L1333.9,311.0 L1333.7,312.8 L1333.4,307.4 L1333.2,316.7 L1332.9,316.6 L1332.7,303.8 L1332.4,320.4 L1332.2,303.3 L1331.9,323.7 L1331.7,319.2 L1331.4,314.7 L1331.2,326.8 L1330.9,327.7 L1330.7,332.9 L1330.4,414.6 L1330.2,454.7 L1329.9,454.6 L1329.7,378.4 L1329.4,332.1 L1329.2,326.6 L1328.9,325.4 L1328.6,307.4 L1328.4,320.5 L1328.1,321.4 L1327.9,300.7 L1327.6,317.4 L1327.4,300.6 L1327.1,313.0 L1326.9,311.7 L1326.6,303.2 L1326.4,308.3 L1326.1,306.2 L1325.9,303.8 L1325.6,305.5 L1325.4,308.2 L1325.1,299.9 L1324.9,309.1 L1324.6,298.4 L1324.4,308.8 L1324.1,308.7 L1323.9,299.1 L1323.6,307.1 L1323.4,302.2 L1323.1,304.3 L1322.9,302.3 L1322.6,305.9 L1322.4,300.5 L1322.1,309.9 L1321.9,301.6 L1321.6,311.8 L1321.4,313.5 L1321.1,296.5 L1320.9,316.8 L1320.6,302.2 L1320.4,320.1 L1320.1,319.3 L1319.9,320.8 L1319.6,326.0 L1319.4,448.0 L1319.1,426.3 L1318.9,447.7 L1318.6,325.4 L1318.4,321.0 L1318.1,316.9 L1317.9,318.6 L1317.6,300.3 L1317.4,314.7 L1317.1,305.3 L1316.8,306.8 L1316.6,310.5 L1316.3,293.7 L1316.1,306.2 L1315.8,296.5 L1315.6,301.6 L1315.3,301.4 L1315.1,299.3 L1314.8,296.9 L1314.6,301.5 L1314.3,299.8 L1314.1,296.2 L1313.8,302.3 L1313.6,291.3 L1313.3,302.0 L1313.1,293.9 L1312.8,299.6 L1312.6,300.2 L1312.3,295.3 L1312.1,297.4 L1311.8,299.2 L1311.6,298.9 L1311.3,293.6 L1311.1,303.0 L1310.8,290.3 L1310.6,306.8 L1310.3,300.8 L1310.1,303.4 L1309.8,310.0 L1309.6,295.3 L1309.3,313.2 L1309.1,313.1 L1308.8,317.5 L1308.6,319.2 L1308.3,441.1 L1308.1,430.5 L1307.8,440.8 L1307.6,318.5 L1307.3,313.0 L1307.1,311.8 L1306.8,311.7 L1306.6,293.5 L1306.3,307.8 L1306.1,287.1 L1305.8,303.8 L1305.6,300.4 L1305.3,293.0 L1305.0,299.3 L1304.8,289.6 L1304.5,294.7 L1304.3,291.6 L1304.0,292.5 L1303.8,290.0 L1303.5,294.6 L1303.3,286.3 L1303.0,295.6 L1302.8,295.2 L1302.5,286.1 L1302.3,295.1 L1302.0,285.5 L1301.8,293.5 L1301.5,289.2 L1301.3,288.5 L1301.0,290.6 L1300.8,292.4 L1300.5,286.9 L1300.3,295.9 L1300.0,296.2 L1299.8,283.4 L1299.5,299.9 L1299.3,282.9 L1299.0,303.3 L1298.8,300.7 L1298.5,291.4 L1298.3,306.4 L1298.0,307.2 L1297.8,312.4 L1297.5,377.2 L1297.3,434.2Z" fill="#a2142f" stroke="#a2142f" stroke-width="2.1" stroke-linejoin="round"/>
<g id="ribbons">
<polygon points="251.40,320.45 525.84,491.12 525.84,514.72 251.40,344.05" fill="#0072bd"/>
<polygon points="309.48,317.52 583.92,488.19 583.92,511.79 309.48,341.12" fill="#d95319"/>
<polygon points="367.56,314.58 642.00,485.26 642.00,508.86 367.56,338.19" fill="#edb120"/>
<polygon points="1006.44,281.83 1281.87,453.11 1281.87,476.71 1006.44,305.43" fill="#7e2f8e"/>
<polygon points="1064.52,278.90 1339.95,450.18 1339.95,473.78 1064.52,302.50" fill="#77ac30"/>
<polygon points="1122.60,275.96 1398.03,447.25 1398.03,470.85 1122.60,299.56" fill="#4dbeee"/>
</g>
<g id="subL" fill="none">
<line x1="210.72" y1="1168.28" x2="210.72" y2="948.83" stroke="#262627" stroke-opacity="0.15" stroke-width="2.0"/>
<line x1="298.35" y1="1151.67" x2="298.35" y2="932.22" stroke="#262627" stroke-opacity="0.15" stroke-width="2.0"/>
<line x1="385.98" y1="1135.07" x2="385.98" y2="915.62" stroke="#262627" stroke-opacity="0.15" stroke-width="2.0"/>
<line x1="193.20" y1="1171.60" x2="403.50" y2="1131.75" stroke="#262627" stroke-opacity="0.15" stroke-width="2.0"/>
<line x1="193.20" y1="1061.88" x2="403.50" y2="1022.02" stroke="#262627" stroke-opacity="0.15" stroke-width="2.0"/>
<line x1="193.20" y1="952.15" x2="403.50" y2="912.30" stroke="#262627" stroke-opacity="0.15" stroke-width="2.0"/>
<line x1="403.50" y1="1131.75" x2="403.50" y2="912.30" stroke="#262627" stroke-opacity="0.15" stroke-width="2.0"/>
<line x1="448.15" y1="1178.95" x2="448.15" y2="959.50" stroke="#262627" stroke-opacity="0.15" stroke-width="2.0"/>
<line x1="492.80" y1="1226.15" x2="492.80" y2="1006.70" stroke="#262627" stroke-opacity="0.15" stroke-width="2.0"/>
<line x1="403.50" y1="1131.75" x2="492.80" y2="1226.15" stroke="#262627" stroke-opacity="0.15" stroke-width="2.0"/>
<line x1="403.50" y1="1022.02" x2="492.80" y2="1116.43" stroke="#262627" stroke-opacity="0.15" stroke-width="2.0"/>
<line x1="403.50" y1="912.30" x2="492.80" y2="1006.70" stroke="#262627" stroke-opacity="0.15" stroke-width="2.0"/>
<line x1="210.72" y1="1168.28" x2="300.02" y2="1262.68" stroke="#262627" stroke-opacity="0.15" stroke-width="2.0"/>
<line x1="298.35" y1="1151.67" x2="387.65" y2="1246.08" stroke="#262627" stroke-opacity="0.15" stroke-width="2.0"/>
<line x1="385.98" y1="1135.07" x2="475.28" y2="1229.47" stroke="#262627" stroke-opacity="0.15" stroke-width="2.0"/>
<line x1="193.20" y1="1171.60" x2="403.50" y2="1131.75" stroke="#262627" stroke-opacity="0.15" stroke-width="2.0"/>
<line x1="237.85" y1="1218.80" x2="448.15" y2="1178.95" stroke="#262627" stroke-opacity="0.15" stroke-width="2.0"/>
<line x1="193.20" y1="1171.60" x2="193.20" y2="952.15" stroke="#262626" stroke-width="2.3"/>
<line x1="193.20" y1="1171.60" x2="282.50" y2="1266.00" stroke="#262626" stroke-width="2.3"/>
<line x1="282.50" y1="1266.00" x2="492.80" y2="1226.15" stroke="#262626" stroke-width="2.3"/>
<line x1="193.20" y1="1171.60" x2="186.81" y2="1172.81" stroke="#262626" stroke-width="2.3"/>
<line x1="237.85" y1="1218.80" x2="231.46" y2="1220.01" stroke="#262626" stroke-width="2.3"/>
<line x1="282.50" y1="1266.00" x2="276.11" y2="1267.21" stroke="#262626" stroke-width="2.3"/>
<line x1="300.02" y1="1262.68" x2="304.49" y2="1267.40" stroke="#262626" stroke-width="2.3"/>
<line x1="387.65" y1="1246.08" x2="392.12" y2="1250.80" stroke="#262626" stroke-width="2.3"/>
<line x1="475.28" y1="1229.47" x2="479.74" y2="1234.19" stroke="#262626" stroke-width="2.3"/>
<line x1="193.20" y1="1171.60" x2="189.76" y2="1167.97" stroke="#262626" stroke-width="2.3"/>
<line x1="193.20" y1="1061.88" x2="189.76" y2="1058.24" stroke="#262626" stroke-width="2.3"/>
<line x1="193.20" y1="952.15" x2="189.76" y2="948.52" stroke="#262626" stroke-width="2.3"/>
<path d="M210.7,948.8 L211.5,952.6 L212.4,962.0 L213.2,976.6 L214.0,995.7 L214.8,1018.4 L215.6,1043.3 L216.5,1069.4 L217.3,1095.2 L218.1,1119.4 L218.9,1140.8 L219.7,1158.3 L220.6,1171.1 L221.4,1178.4 L222.2,1180.0 L223.0,1175.8 L223.8,1166.1 L224.7,1151.4 L225.5,1132.6 L226.3,1110.7 L227.1,1086.9 L227.9,1062.5 L228.7,1038.9 L229.6,1017.3 L230.4,999.0 L231.2,984.9 L232.0,975.9 L232.8,972.4 L233.7,974.7 L234.5,982.8 L235.3,996.1 L236.1,1014.2 L236.9,1036.0 L237.8,1060.5 L238.6,1086.4 L239.4,1112.4 L240.2,1137.1 L241.0,1159.4 L241.9,1178.0 L242.7,1192.0 L243.5,1200.7 L244.3,1203.7 L245.1,1201.0 L246.0,1192.6 L246.8,1179.1 L247.6,1161.3 L248.4,1140.0 L249.2,1116.6 L250.0,1092.2 L250.9,1068.3 L251.7,1046.1 L252.5,1026.8 L253.3,1011.6 L254.1,1001.2 L255.0,996.3 L255.8,997.2 L256.6,1003.8 L257.4,1015.9 L258.2,1032.9 L259.1,1053.9 L259.9,1077.8 L260.7,1103.5 L261.5,1129.6 L262.3,1154.7 L263.2,1177.7 L264.0,1197.3 L264.8,1212.5 L265.6,1222.6 L266.4,1227.1 L267.3,1225.8 L268.1,1218.8 L268.9,1206.5 L269.7,1189.7 L270.5,1169.2 L271.4,1146.2 L272.2,1121.9 L273.0,1097.8 L273.8,1075.0 L274.6,1054.9 L275.4,1038.6 L276.3,1026.9 L277.1,1020.6 L277.9,1020.0 L278.7,1025.2 L279.5,1036.0 L280.4,1051.8 L281.2,1071.9 L282.0,1095.2 L282.8,1120.6 L283.6,1146.7 L284.5,1172.2 L285.3,1195.8 L286.1,1216.4 L286.9,1232.8 L287.7,1244.2 L288.6,1250.1 L289.4,1250.3 L290.2,1244.7 L291.0,1233.7 L291.8,1217.9 L292.7,1198.2 L293.5,1175.7 L294.3,1151.6 L295.1,1127.3 L295.9,1104.1 L296.7,1083.2 L297.6,1065.9 L298.4,1053.0 L299.2,1045.3 L300.0,1043.2" stroke="#0072bd" stroke-width="2.2" stroke-linejoin="round"/>
<path d="M298.4,932.2 L299.2,936.3 L300.0,946.6 L300.8,962.5 L301.6,983.2 L302.4,1007.6 L303.3,1034.2 L304.1,1061.6 L304.9,1088.2 L305.7,1112.4 L306.5,1133.1 L307.4,1148.9 L308.2,1159.0 L309.0,1162.9 L309.8,1160.4 L310.6,1151.8 L311.5,1137.4 L312.3,1118.3 L313.1,1095.6 L313.9,1070.7 L314.7,1045.1 L315.6,1020.3 L316.4,997.8 L317.2,979.0 L318.0,965.0 L318.8,956.8 L319.7,954.7 L320.5,959.1 L321.3,969.7 L322.1,985.9 L322.9,1006.8 L323.7,1031.3 L324.6,1058.0 L325.4,1085.3 L326.2,1111.8 L327.0,1136.0 L327.8,1156.4 L328.7,1172.0 L329.5,1181.8 L330.3,1185.4 L331.1,1182.6 L331.9,1173.7 L332.8,1159.1 L333.6,1139.8 L334.4,1117.0 L335.2,1092.0 L336.0,1066.3 L336.9,1041.6 L337.7,1019.3 L338.5,1000.7 L339.3,987.0 L340.1,979.0 L341.0,977.3 L341.8,982.0 L342.6,992.8 L343.4,1009.3 L344.2,1030.4 L345.0,1055.0 L345.9,1081.8 L346.7,1109.1 L347.5,1135.5 L348.3,1159.5 L349.1,1179.7 L350.0,1195.1 L350.8,1204.6 L351.6,1207.9 L352.4,1204.8 L353.2,1195.6 L354.1,1180.7 L354.9,1161.2 L355.7,1138.3 L356.5,1113.2 L357.3,1087.6 L358.2,1063.0 L359.0,1040.8 L359.8,1022.4 L360.6,1009.0 L361.4,1001.3 L362.3,999.8 L363.1,1004.8 L363.9,1015.9 L364.7,1032.6 L365.5,1054.0 L366.3,1078.7 L367.2,1105.5 L368.0,1132.9 L368.8,1159.2 L369.6,1183.1 L370.4,1203.1 L371.3,1218.1 L372.1,1227.4 L372.9,1230.4 L373.7,1227.0 L374.5,1217.5 L375.4,1202.4 L376.2,1182.7 L377.0,1159.6 L377.8,1134.5 L378.6,1108.9 L379.5,1084.3 L380.3,1062.3 L381.1,1044.1 L381.9,1030.9 L382.7,1023.5 L383.6,1022.4 L384.4,1027.7 L385.2,1039.1 L386.0,1056.0 L386.8,1077.5 L387.7,1102.4" stroke="#d95319" stroke-width="2.2" stroke-linejoin="round"/>
<path d="M386.0,915.6 L386.8,920.0 L387.6,931.2 L388.4,948.5 L389.3,970.9 L390.1,997.0 L390.9,1025.2 L391.7,1053.7 L392.5,1080.8 L393.3,1104.8 L394.2,1124.2 L395.0,1137.9 L395.8,1144.9 L396.6,1145.0 L397.4,1138.1 L398.3,1124.8 L399.1,1106.0 L399.9,1082.9 L400.7,1057.0 L401.5,1030.1 L402.4,1004.0 L403.2,980.3 L404.0,960.7 L404.8,946.4 L405.6,938.5 L406.5,937.5 L407.3,943.4 L408.1,956.1 L408.9,974.6 L409.7,998.0 L410.6,1024.7 L411.4,1053.1 L412.2,1081.5 L413.0,1108.1 L413.8,1131.1 L414.6,1149.3 L415.5,1161.5 L416.3,1167.0 L417.1,1165.5 L417.9,1157.1 L418.7,1142.4 L419.6,1122.5 L420.4,1098.6 L421.2,1072.4 L422.0,1045.5 L422.8,1019.8 L423.7,996.9 L424.5,978.4 L425.3,965.5 L426.1,959.1 L426.9,959.7 L427.8,967.2 L428.6,981.2 L429.4,1001.0 L430.2,1025.3 L431.0,1052.5 L431.9,1081.1 L432.7,1109.2 L433.5,1135.1 L434.3,1157.2 L435.1,1174.1 L436.0,1184.8 L436.8,1188.7 L437.6,1185.6 L438.4,1175.7 L439.2,1159.8 L440.0,1138.8 L440.9,1114.3 L441.7,1087.7 L442.5,1061.0 L443.3,1035.7 L444.1,1013.7 L445.0,996.4 L445.8,984.9 L446.6,980.1 L447.4,982.2 L448.2,991.3 L449.1,1006.7 L449.9,1027.6 L450.7,1052.7 L451.5,1080.4 L452.3,1109.1 L453.2,1136.8 L454.0,1162.0 L454.8,1183.0 L455.6,1198.6 L456.4,1207.8 L457.3,1210.1 L458.1,1205.4 L458.9,1194.1 L459.7,1176.9 L460.5,1155.0 L461.3,1129.8 L462.2,1103.0 L463.0,1076.5 L463.8,1051.8 L464.6,1030.8 L465.4,1014.7 L466.3,1004.7 L467.1,1001.4 L467.9,1005.1 L468.7,1015.7 L469.5,1032.5 L470.4,1054.5 L471.2,1080.3 L472.0,1108.4 L472.8,1137.0 L473.6,1164.3 L474.5,1188.6 L475.3,1208.5" stroke="#edb120" stroke-width="2.2" stroke-linejoin="round"/>
</g>
<g id="subR" fill="none">
<line x1="982.34" y1="1126.70" x2="982.34" y2="928.70" stroke="#262627" stroke-opacity="0.15" stroke-width="2.0"/>
<line x1="1067.05" y1="1111.70" x2="1067.05" y2="913.70" stroke="#262627" stroke-opacity="0.15" stroke-width="2.0"/>
<line x1="1151.76" y1="1096.70" x2="1151.76" y2="898.70" stroke="#262627" stroke-opacity="0.15" stroke-width="2.0"/>
<line x1="965.40" y1="1129.70" x2="1168.70" y2="1093.70" stroke="#262627" stroke-opacity="0.15" stroke-width="2.0"/>
<line x1="965.40" y1="1030.70" x2="1168.70" y2="994.70" stroke="#262627" stroke-opacity="0.15" stroke-width="2.0"/>
<line x1="965.40" y1="931.70" x2="1168.70" y2="895.70" stroke="#262627" stroke-opacity="0.15" stroke-width="2.0"/>
<line x1="1168.70" y1="1093.70" x2="1168.70" y2="895.70" stroke="#262627" stroke-opacity="0.15" stroke-width="2.0"/>
<line x1="1211.90" y1="1135.80" x2="1211.90" y2="937.80" stroke="#262627" stroke-opacity="0.15" stroke-width="2.0"/>
<line x1="1255.10" y1="1177.90" x2="1255.10" y2="979.90" stroke="#262627" stroke-opacity="0.15" stroke-width="2.0"/>
<line x1="1168.70" y1="1093.70" x2="1255.10" y2="1177.90" stroke="#262627" stroke-opacity="0.15" stroke-width="2.0"/>
<line x1="1168.70" y1="994.70" x2="1255.10" y2="1078.90" stroke="#262627" stroke-opacity="0.15" stroke-width="2.0"/>
<line x1="1168.70" y1="895.70" x2="1255.10" y2="979.90" stroke="#262627" stroke-opacity="0.15" stroke-width="2.0"/>
<line x1="982.34" y1="1126.70" x2="1068.74" y2="1210.90" stroke="#262627" stroke-opacity="0.15" stroke-width="2.0"/>
<line x1="1067.05" y1="1111.70" x2="1153.45" y2="1195.90" stroke="#262627" stroke-opacity="0.15" stroke-width="2.0"/>
<line x1="1151.76" y1="1096.70" x2="1238.16" y2="1180.90" stroke="#262627" stroke-opacity="0.15" stroke-width="2.0"/>
<line x1="965.40" y1="1129.70" x2="1168.70" y2="1093.70" stroke="#262627" stroke-opacity="0.15" stroke-width="2.0"/>
<line x1="1008.60" y1="1171.80" x2="1211.90" y2="1135.80" stroke="#262627" stroke-opacity="0.15" stroke-width="2.0"/>
<line x1="965.40" y1="1129.70" x2="965.40" y2="931.70" stroke="#262626" stroke-width="2.3"/>
<line x1="965.40" y1="1129.70" x2="1051.80" y2="1213.90" stroke="#262626" stroke-width="2.3"/>
<line x1="1051.80" y1="1213.90" x2="1255.10" y2="1177.90" stroke="#262626" stroke-width="2.3"/>
<line x1="965.40" y1="1129.70" x2="959.00" y2="1130.83" stroke="#262626" stroke-width="2.3"/>
<line x1="1008.60" y1="1171.80" x2="1002.20" y2="1172.93" stroke="#262626" stroke-width="2.3"/>
<line x1="1051.80" y1="1213.90" x2="1045.40" y2="1215.03" stroke="#262626" stroke-width="2.3"/>
<line x1="1068.74" y1="1210.90" x2="1073.40" y2="1215.44" stroke="#262626" stroke-width="2.3"/>
<line x1="1153.45" y1="1195.90" x2="1158.11" y2="1200.44" stroke="#262626" stroke-width="2.3"/>
<line x1="1238.16" y1="1180.90" x2="1242.81" y2="1185.44" stroke="#262626" stroke-width="2.3"/>
<line x1="965.40" y1="1129.70" x2="961.82" y2="1126.21" stroke="#262626" stroke-width="2.3"/>
<line x1="965.40" y1="1030.70" x2="961.82" y2="1027.21" stroke="#262626" stroke-width="2.3"/>
<line x1="965.40" y1="931.70" x2="961.82" y2="928.21" stroke="#262626" stroke-width="2.3"/>
<path d="M982.3,928.7 L983.1,936.6 L983.9,957.5 L984.7,988.8 L985.5,1025.9 L986.3,1063.8 L987.1,1097.0 L987.9,1121.0 L988.7,1132.4 L989.5,1129.7 L990.3,1113.5 L991.1,1086.0 L991.9,1051.5 L992.6,1014.8 L993.4,981.5 L994.2,956.3 L995.0,943.0 L995.8,943.5 L996.6,958.0 L997.4,984.4 L998.2,1019.1 L999.0,1057.3 L999.8,1093.5 L1000.6,1122.8 L1001.4,1141.0 L1002.2,1145.6 L1003.0,1136.2 L1003.7,1114.1 L1004.5,1082.6 L1005.3,1046.4 L1006.1,1010.7 L1006.9,980.7 L1007.7,960.9 L1008.5,954.2 L1009.3,961.6 L1010.1,982.3 L1010.9,1013.3 L1011.7,1050.3 L1012.5,1088.2 L1013.3,1121.6 L1014.0,1146.0 L1014.8,1157.8 L1015.6,1155.5 L1016.4,1139.6 L1017.2,1112.5 L1018.0,1078.1 L1018.8,1041.4 L1019.6,1007.9 L1020.4,982.4 L1021.2,968.7 L1022.0,968.8 L1022.8,982.9 L1023.6,1009.0 L1024.4,1043.5 L1025.1,1081.7 L1025.9,1118.0 L1026.7,1147.6 L1027.5,1166.1 L1028.3,1171.2 L1029.1,1162.2 L1029.9,1140.4 L1030.7,1109.2 L1031.5,1073.0 L1032.3,1037.2 L1033.1,1007.0 L1033.9,986.9 L1034.7,979.7 L1035.4,986.7 L1036.2,1007.0 L1037.0,1037.7 L1037.8,1074.6 L1038.6,1112.6 L1039.4,1146.2 L1040.2,1170.9 L1041.0,1183.1 L1041.8,1181.3 L1042.6,1165.8 L1043.4,1139.0 L1044.2,1104.7 L1045.0,1068.0 L1045.8,1034.3 L1046.5,1008.5 L1047.3,994.4 L1048.1,994.1 L1048.9,1007.8 L1049.7,1033.6 L1050.5,1067.9 L1051.3,1106.0 L1052.1,1142.5 L1052.9,1172.3 L1053.7,1191.3 L1054.5,1196.8 L1055.3,1188.2 L1056.1,1166.8 L1056.9,1135.7 L1057.6,1099.7 L1058.4,1063.8 L1059.2,1033.3 L1060.0,1012.8 L1060.8,1005.2 L1061.6,1011.8 L1062.4,1031.7 L1063.2,1062.2 L1064.0,1099.0 L1064.8,1137.0 L1065.6,1170.9 L1066.4,1195.8 L1067.2,1208.5 L1067.9,1207.1 L1068.7,1192.0" stroke="#7e2f8e" stroke-width="2.2" stroke-linejoin="round"/>
<path d="M1067.0,913.7 L1067.8,922.0 L1068.6,944.1 L1069.4,976.9 L1070.2,1015.5 L1071.0,1054.1 L1071.8,1087.0 L1072.6,1109.4 L1073.4,1117.9 L1074.2,1111.4 L1075.0,1090.9 L1075.8,1059.8 L1076.6,1022.8 L1077.4,985.7 L1078.1,954.2 L1078.9,933.2 L1079.7,926.1 L1080.5,933.9 L1081.3,955.7 L1082.1,988.2 L1082.9,1026.7 L1083.7,1065.4 L1084.5,1098.6 L1085.3,1121.3 L1086.1,1130.2 L1086.9,1124.1 L1087.7,1104.1 L1088.5,1073.2 L1089.2,1036.3 L1090.0,999.1 L1090.8,967.4 L1091.6,946.1 L1092.4,938.4 L1093.2,945.9 L1094.0,967.3 L1094.8,999.6 L1095.6,1037.9 L1096.4,1076.7 L1097.2,1110.1 L1098.0,1133.2 L1098.8,1142.6 L1099.5,1136.9 L1100.3,1117.2 L1101.1,1086.6 L1101.9,1049.8 L1102.7,1012.6 L1103.5,980.6 L1104.3,958.9 L1105.1,950.8 L1105.9,957.8 L1106.7,978.8 L1107.5,1010.9 L1108.3,1049.2 L1109.1,1088.0 L1109.9,1121.6 L1110.6,1145.1 L1111.4,1154.9 L1112.2,1149.7 L1113.0,1130.4 L1113.8,1100.0 L1114.6,1063.3 L1115.4,1026.0 L1116.2,993.8 L1117.0,971.7 L1117.8,963.2 L1118.6,969.8 L1119.4,990.4 L1120.2,1022.2 L1121.0,1060.4 L1121.7,1099.3 L1122.5,1133.2 L1123.3,1157.0 L1124.1,1167.2 L1124.9,1162.4 L1125.7,1143.5 L1126.5,1113.4 L1127.3,1076.8 L1128.1,1039.4 L1128.9,1007.0 L1129.7,984.6 L1130.5,975.7 L1131.3,981.8 L1132.0,1002.0 L1132.8,1033.5 L1133.6,1071.6 L1134.4,1110.6 L1135.2,1144.7 L1136.0,1168.8 L1136.8,1179.5 L1137.6,1175.2 L1138.4,1156.6 L1139.2,1126.8 L1140.0,1090.3 L1140.8,1052.9 L1141.6,1020.2 L1142.4,997.4 L1143.1,988.1 L1143.9,993.7 L1144.7,1013.6 L1145.5,1044.9 L1146.3,1082.8 L1147.1,1121.9 L1147.9,1156.2 L1148.7,1180.7 L1149.5,1191.8 L1150.3,1187.9 L1151.1,1169.7 L1151.9,1140.2 L1152.7,1103.8 L1153.5,1066.3" stroke="#77ac30" stroke-width="2.2" stroke-linejoin="round"/>
<path d="M1151.8,898.7 L1152.6,907.4 L1153.3,930.8 L1154.1,965.1 L1154.9,1005.1 L1155.7,1044.3 L1156.5,1076.7 L1157.3,1097.2 L1158.1,1102.5 L1158.9,1092.0 L1159.7,1067.5 L1160.5,1033.0 L1161.3,994.2 L1162.1,957.4 L1162.9,928.8 L1163.6,912.9 L1164.4,912.5 L1165.2,927.8 L1166.0,956.5 L1166.8,993.9 L1167.6,1034.4 L1168.4,1071.4 L1169.2,1099.2 L1170.0,1113.4 L1170.8,1111.9 L1171.6,1095.0 L1172.4,1065.6 L1173.2,1028.5 L1174.0,989.8 L1174.7,955.9 L1175.5,932.2 L1176.3,922.8 L1177.1,929.3 L1177.9,950.7 L1178.7,983.8 L1179.5,1023.3 L1180.3,1063.1 L1181.1,1096.8 L1181.9,1119.2 L1182.7,1126.8 L1183.5,1118.5 L1184.3,1095.8 L1185.1,1062.4 L1185.8,1023.8 L1186.6,986.4 L1187.4,956.2 L1188.2,938.3 L1189.0,935.7 L1189.8,948.8 L1190.6,975.8 L1191.4,1012.3 L1192.2,1052.7 L1193.0,1090.6 L1193.8,1120.1 L1194.6,1136.4 L1195.4,1137.2 L1196.1,1122.4 L1196.9,1094.5 L1197.7,1058.1 L1198.5,1019.3 L1199.3,984.3 L1200.1,958.8 L1200.9,947.3 L1201.7,951.4 L1202.5,970.9 L1203.3,1002.6 L1204.1,1041.6 L1204.9,1081.7 L1205.7,1116.6 L1206.5,1140.9 L1207.2,1150.7 L1208.0,1144.7 L1208.8,1123.8 L1209.6,1091.6 L1210.4,1053.4 L1211.2,1015.5 L1212.0,983.9 L1212.8,964.0 L1213.6,959.1 L1214.4,970.1 L1215.2,995.3 L1216.0,1030.8 L1216.8,1071.0 L1217.5,1109.7 L1218.3,1140.6 L1219.1,1159.0 L1219.9,1162.1 L1220.7,1149.4 L1221.5,1123.2 L1222.3,1087.7 L1223.1,1048.8 L1223.9,1012.8 L1224.7,985.8 L1225.5,972.0 L1226.3,973.9 L1227.1,991.3 L1227.9,1021.5 L1228.6,1059.8 L1229.4,1100.2 L1230.2,1136.2 L1231.0,1162.3 L1231.8,1174.4 L1232.6,1170.6 L1233.4,1151.7 L1234.2,1120.8 L1235.0,1083.1 L1235.8,1044.7 L1236.6,1011.9 L1237.4,990.1 L1238.2,982.9" stroke="#4dbeee" stroke-width="2.2" stroke-linejoin="round"/>
</g>
<g id="subL-labels">
<text x="183.90" y="957.20" font-family="'Liberation Sans', Arial, Helvetica, sans-serif" font-size="37" fill="#262626" text-anchor="end" >1</text>
<text x="183.90" y="1067.40" font-family="'Liberation Sans', Arial, Helvetica, sans-serif" font-size="37" fill="#262626" text-anchor="end" >0</text>
<text x="183.90" y="1177.00" font-family="'Liberation Sans', Arial, Helvetica, sans-serif" font-size="37" fill="#262626" text-anchor="end" >-1</text>
<text x="159.50" y="1212.00" font-family="'Liberation Sans', Arial, Helvetica, sans-serif" font-size="37" fill="#262626" text-anchor="start" >0</text>
<text x="203.60" y="1259.70" font-family="'Liberation Sans', Arial, Helvetica, sans-serif" font-size="37" fill="#262626" text-anchor="start" >2</text>
<text x="248.50" y="1306.00" font-family="'Liberation Sans', Arial, Helvetica, sans-serif" font-size="37" fill="#262626" text-anchor="start" >4</text>
<text x="310.50" y="1310.00" font-family="'Liberation Sans', Arial, Helvetica, sans-serif" font-size="37" fill="#262626" text-anchor="start" >1</text>
<text x="397.90" y="1293.70" font-family="'Liberation Sans', Arial, Helvetica, sans-serif" font-size="37" fill="#262626" text-anchor="start" >1.05</text>
<text x="485.00" y="1277.00" font-family="'Liberation Sans', Arial, Helvetica, sans-serif" font-size="37" fill="#262626" text-anchor="start" >1.1</text>
<text x="283.00" y="1345.00" font-family="'Liberation Sans', Arial, Helvetica, sans-serif" font-size="41.8" fill="#262626" text-anchor="start" >Frequency/Hz</text>
<text x="63.00" y="1336.00" font-family="'Liberation Sans', Arial, Helvetica, sans-serif" font-size="41.8" fill="#262626" text-anchor="start" >Time/s</text>
<text font-family="'Liberation Sans', Arial, Helvetica, sans-serif" fill="#262626"><tspan x="46.83" y="1301.22" font-size="43.3" fill="#3a3a3a">×</tspan><tspan x="74.60" y="1296.10" font-size="37.5">10</tspan><tspan x="116.20" y="1277.50" font-size="30.0">-4</tspan></text>
<text font-family="'Liberation Sans', Arial, Helvetica, sans-serif" fill="#262626"><tspan x="566.63" y="1342.92" font-size="43.3" fill="#3a3a3a">×</tspan><tspan x="594.40" y="1337.80" font-size="37.5">10</tspan><tspan x="636.00" y="1319.20" font-size="30.0">4</tspan></text>
<text transform="translate(133.00,1155.00) rotate(-90)" font-family="'Liberation Sans', Arial, Helvetica, sans-serif" font-size="41.8" fill="#262626" text-anchor="start">Amplitude</text>
</g>
<g id="subR-labels">
<text x="956.30" y="937.30" font-family="'Liberation Sans', Arial, Helvetica, sans-serif" font-size="37" fill="#262626" text-anchor="end" >1</text>
<text x="956.30" y="1037.00" font-family="'Liberation Sans', Arial, Helvetica, sans-serif" font-size="37" fill="#262626" text-anchor="end" >0</text>
<text x="956.30" y="1135.50" font-family="'Liberation Sans', Arial, Helvetica, sans-serif" font-size="37" fill="#262626" text-anchor="end" >-1</text>
<text x="932.00" y="1169.60" font-family="'Liberation Sans', Arial, Helvetica, sans-serif" font-size="37" fill="#262626" text-anchor="start" >0</text>
<text x="975.30" y="1211.70" font-family="'Liberation Sans', Arial, Helvetica, sans-serif" font-size="37" fill="#262626" text-anchor="start" >2</text>
<text x="1017.50" y="1254.70" font-family="'Liberation Sans', Arial, Helvetica, sans-serif" font-size="37" fill="#262626" text-anchor="start" >4</text>
<text x="1078.80" y="1258.90" font-family="'Liberation Sans', Arial, Helvetica, sans-serif" font-size="37" fill="#262626" text-anchor="start" >1.65</text>
<text x="1161.80" y="1244.30" font-family="'Liberation Sans', Arial, Helvetica, sans-serif" font-size="37" fill="#262626" text-anchor="start" >1.7</text>
<text x="1249.30" y="1229.00" font-family="'Liberation Sans', Arial, Helvetica, sans-serif" font-size="37" fill="#262626" text-anchor="start" >1.75</text>
<text x="1059.00" y="1311.90" font-family="'Liberation Sans', Arial, Helvetica, sans-serif" font-size="41.2" fill="#262626" text-anchor="start" >Frequency/Hz</text>
<text x="836.60" y="1285.90" font-family="'Liberation Sans', Arial, Helvetica, sans-serif" font-size="41.3" fill="#262626" text-anchor="start" >Time/s</text>
<text font-family="'Liberation Sans', Arial, Helvetica, sans-serif" fill="#262626"><tspan x="822.70" y="1254.64" font-size="41.8" fill="#3a3a3a">×</tspan><tspan x="849.50" y="1249.70" font-size="36.2">10</tspan><tspan x="889.66" y="1231.74" font-size="29.0">-4</tspan></text>
<text font-family="'Liberation Sans', Arial, Helvetica, sans-serif" fill="#262626"><tspan x="1328.70" y="1291.64" font-size="41.8" fill="#3a3a3a">×</tspan><tspan x="1355.50" y="1286.70" font-size="36.2">10</tspan><tspan x="1395.66" y="1268.74" font-size="29.0">4</tspan></text>
<text transform="translate(906.00,1121.50) rotate(-90)" font-family="'Liberation Sans', Arial, Helvetica, sans-serif" font-size="41" fill="#262626" text-anchor="start">Amplitude</text>
</g>
<g id="annot">
<rect x="253.90" y="297.00" width="31.10" height="71.00" fill="none" stroke="#000" stroke-width="10.0"/>
<rect x="307.10" y="298.30" width="30.70" height="70.30" fill="none" stroke="#000" stroke-width="10.0"/>
<rect x="363.00" y="297.00" width="31.00" height="71.00" fill="none" stroke="#000" stroke-width="10.0"/>
<rect x="1000.90" y="258.10" width="30.90" height="71.10" fill="none" stroke="#000" stroke-width="10.0"/>
<rect x="1057.80" y="256.40" width="31.00" height="70.80" fill="none" stroke="#000" stroke-width="10.0"/>
<rect x="1116.80" y="253.90" width="31.40" height="71.50" fill="none" stroke="#000" stroke-width="10.0"/>
<defs>
<linearGradient id="agL" gradientUnits="userSpaceOnUse" x1="0" y1="384.0" x2="0" y2="922.0"><stop offset="0" stop-color="#fff4c8" stop-opacity="0.27"/><stop offset="0.5" stop-color="#ffd541" stop-opacity="0.5"/><stop offset="0.63" stop-color="#ffd030" stop-opacity="0.73"/><stop offset="0.82" stop-color="#ffc817" stop-opacity="0.85"/><stop offset="1" stop-color="#ffc000" stop-opacity="1"/></linearGradient>
<linearGradient id="agR" gradientUnits="userSpaceOnUse" x1="0" y1="342.0" x2="0" y2="881.0"><stop offset="0" stop-color="#fff4c8" stop-opacity="0.27"/><stop offset="0.5" stop-color="#ffd541" stop-opacity="0.5"/><stop offset="0.63" stop-color="#ffd030" stop-opacity="0.73"/><stop offset="0.82" stop-color="#ffc817" stop-opacity="0.85"/><stop offset="1" stop-color="#ffc000" stop-opacity="1"/></linearGradient>
</defs>
<path d="M251.35,387.45 L278.55,387.45 L278.55,893.05 L292.95,893.05 L264.95,920.70 L236.95,893.05 L251.35,893.05 Z" fill="url(#agL)" stroke="#172c51" stroke-width="4.9" stroke-linejoin="miter"/>
<path d="M309.60,387.45 L336.80,387.45 L336.80,893.05 L351.20,893.05 L323.20,920.70 L295.20,893.05 L309.60,893.05 Z" fill="url(#agL)" stroke="#172c51" stroke-width="4.9" stroke-linejoin="miter"/>
<path d="M364.30,385.45 L391.50,385.45 L391.50,890.75 L405.90,890.75 L377.90,918.70 L349.90,890.75 L364.30,890.75 Z" fill="url(#agL)" stroke="#172c51" stroke-width="4.9" stroke-linejoin="miter"/>
<path d="M1004.35,344.65 L1031.55,344.65 L1031.55,850.25 L1046.25,850.25 L1017.95,877.70 L989.65,850.25 L1004.35,850.25 Z" fill="url(#agR)" stroke="#172c51" stroke-width="4.9" stroke-linejoin="miter"/>
<path d="M1061.30,345.45 L1088.50,345.45 L1088.50,850.75 L1103.20,850.75 L1074.90,878.20 L1046.60,850.75 L1061.30,850.75 Z" fill="url(#agR)" stroke="#172c51" stroke-width="4.9" stroke-linejoin="miter"/>
<path d="M1120.50,343.45 L1147.70,343.45 L1147.70,848.95 L1162.40,848.95 L1134.10,876.40 L1105.80,848.95 L1120.50,848.95 Z" fill="url(#agR)" stroke="#172c51" stroke-width="4.9" stroke-linejoin="miter"/>
<path d="M252.25,950.50 H263.35 V961.75 H274.30 V972.85 H263.35 V984.10 H252.25 V972.85 H241.30 V961.75 H252.25 Z" fill="#0070c0" stroke="#172c51" stroke-width="4.9"/>
<path d="M348.45,936.40 H359.55 V947.65 H370.50 V958.75 H359.55 V970.00 H348.45 V958.75 H337.50 V947.65 H348.45 Z" fill="#0070c0" stroke="#172c51" stroke-width="4.9"/>
<path d="M433.55,923.90 H444.65 V935.15 H455.60 V946.25 H444.65 V957.50 H433.55 V946.25 H422.60 V935.15 H433.55 Z" fill="#0070c0" stroke="#172c51" stroke-width="4.9"/>
<path d="M1025.45,902.50 H1036.55 V913.75 H1047.50 V924.85 H1036.55 V936.10 H1025.45 V924.85 H1014.50 V913.75 H1025.45 Z" fill="#0070c0" stroke="#172c51" stroke-width="4.9"/>
<path d="M1114.45,890.90 H1125.55 V902.15 H1136.50 V913.25 H1125.55 V924.50 H1114.45 V913.25 H1103.50 V902.15 H1114.45 Z" fill="#0070c0" stroke="#172c51" stroke-width="4.9"/>
<rect x="1216.45" y="269.50" width="39.20" height="13.65" fill="#4472c4" stroke="#172c51" stroke-width="4.9"/>
<rect x="1216.45" y="289.75" width="39.20" height="13.80" fill="#4472c4" stroke="#172c51" stroke-width="4.9"/>
<text x="663.97" y="339.61" font-family="'Liberation Sans', Arial, Helvetica, sans-serif" font-size="66.42" fill="#000">•</text>
<text x="718.97" y="339.61" font-family="'Liberation Sans', Arial, Helvetica, sans-serif" font-size="66.42" fill="#000">•</text>
<text x="773.97" y="339.61" font-family="'Liberation Sans', Arial, Helvetica, sans-serif" font-size="66.42" fill="#000">•</text>
<text x="621.57" y="1021.41" font-family="'Liberation Sans', Arial, Helvetica, sans-serif" font-size="66.42" fill="#000">•</text>
<text x="676.57" y="1021.41" font-family="'Liberation Sans', Arial, Helvetica, sans-serif" font-size="66.42" fill="#000">•</text>
<text x="731.67" y="1021.41" font-family="'Liberation Sans', Arial, Helvetica, sans-serif" font-size="66.42" fill="#000">•</text>
<line x1="308.48" y1="1262.79" x2="385.66" y2="1248.08" stroke="#4472c4" stroke-width="2"/>
<polygon points="308.48,1262.79 337.43,1270.51 332.57,1244.97" fill="#4472c4"/>
<polygon points="385.66,1248.08 361.57,1265.91 356.70,1240.37" fill="#4472c4"/>
<line x1="401.42" y1="1245.34" x2="471.50" y2="1234.57" stroke="#4472c4" stroke-width="2"/>
<polygon points="401.42,1245.34 430.08,1254.09 426.13,1228.39" fill="#4472c4"/>
<polygon points="471.50,1234.57 446.79,1251.52 442.84,1225.82" fill="#4472c4"/>
<circle cx="301.6" cy="1264.1" r="8.95" fill="#4472c4" stroke="#172c51" stroke-width="4.6"/>
<circle cx="394.5" cy="1246.4" r="8.95" fill="#4472c4" stroke="#172c51" stroke-width="4.6"/>
<circle cx="480.4" cy="1233.2" r="8.95" fill="#4472c4" stroke="#172c51" stroke-width="4.6"/>
<line x1="1077.70" y1="1208.62" x2="1145.73" y2="1197.01" stroke="#4472c4" stroke-width="2"/>
<polygon points="1077.70,1208.62 1106.50,1216.90 1102.13,1191.27" fill="#4472c4"/>
<polygon points="1145.73,1197.01 1121.30,1214.37 1116.93,1188.74" fill="#4472c4"/>
<line x1="1161.52" y1="1194.45" x2="1231.60" y2="1183.85" stroke="#4472c4" stroke-width="2"/>
<polygon points="1161.52,1194.45 1190.16,1203.27 1186.27,1177.56" fill="#4472c4"/>
<polygon points="1231.60,1183.85 1206.85,1200.74 1202.96,1175.03" fill="#4472c4"/>
<circle cx="1070.8" cy="1209.8" r="8.95" fill="#4472c4" stroke="#172c51" stroke-width="4.6"/>
<circle cx="1154.6" cy="1195.5" r="8.95" fill="#4472c4" stroke="#172c51" stroke-width="4.6"/>
<circle cx="1240.5" cy="1182.5" r="8.95" fill="#4472c4" stroke="#172c51" stroke-width="4.6"/>
<polyline points="301.5,1264.3 192.6,1416.9 12.9,1416.9" fill="none" stroke="#4472c4" stroke-width="1.8"/>
<text transform="translate(285.25,1210.39) scale(1.32,1)" font-family="'Liberation Serif', 'Times New Roman', serif" font-style="italic" fill="#000" font-size="50.4">f</text>
<text x="306.30" y="1218.50" font-family="'Liberation Serif', 'Times New Roman', serif" font-style="italic" fill="#000" font-size="40" letter-spacing="3.3">rep</text>
<text transform="translate(379.25,1200.69) scale(1.32,1)" font-family="'Liberation Serif', 'Times New Roman', serif" font-style="italic" fill="#000" font-size="50.4">f</text>
<text x="399.30" y="1208.60" font-family="'Liberation Serif', 'Times New Roman', serif" font-style="italic" fill="#000" font-size="40" letter-spacing="3.3">rep</text>
<text transform="translate(1050.75,1162.69) scale(1.32,1)" font-family="'Liberation Serif', 'Times New Roman', serif" font-style="italic" fill="#000" font-size="50.4">f</text>
<text x="1069.50" y="1170.90" font-family="'Liberation Serif', 'Times New Roman', serif" font-style="italic" fill="#000" font-size="40" letter-spacing="3.3">rep</text>
<text transform="translate(1152.85,1140.79) scale(1.32,1)" font-family="'Liberation Serif', 'Times New Roman', serif" font-style="italic" fill="#000" font-size="50.4">f</text>
<text x="1171.90" y="1149.00" font-family="'Liberation Serif', 'Times New Roman', serif" font-style="italic" fill="#000" font-size="40" letter-spacing="3.3">rep</text>
<text transform="translate(7.13,1387.37) scale(1.35,1)" font-family="'Liberation Serif', 'Times New Roman', serif" font-style="italic" fill="#000" font-size="83.9">f</text>
<text x="39.90" y="1403.70" font-family="'Liberation Serif', 'Times New Roman', serif" font-style="italic" fill="#000" font-size="68" letter-spacing="0.2">ceo</text>
</g>
</svg>
</body></html>
